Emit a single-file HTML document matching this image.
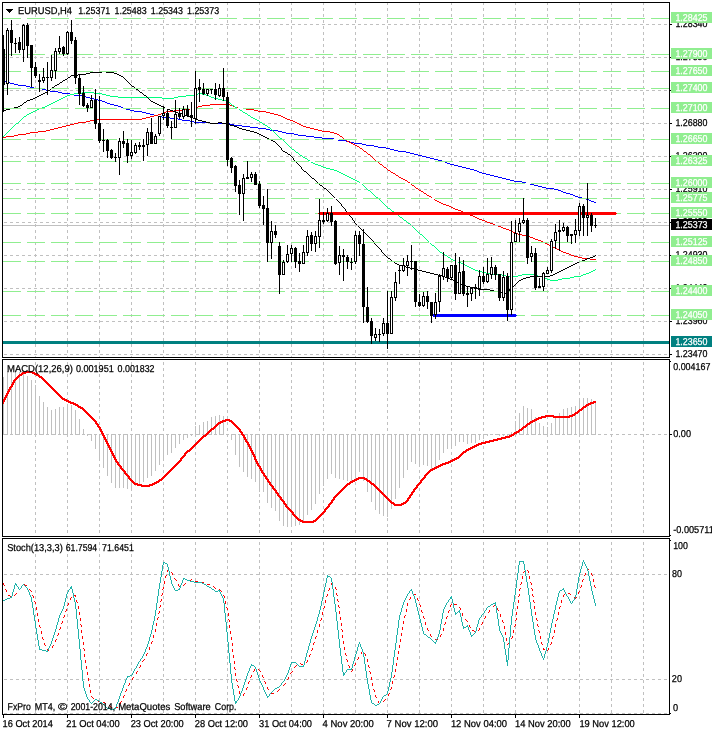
<!DOCTYPE html>
<html lang="en"><head><meta charset="utf-8"><title>EURUSD H4</title>
<style>html,body{margin:0;padding:0;background:#fff;overflow:hidden}body{width:712px;height:732px}</style>
</head><body>
<svg width="712" height="732" viewBox="0 0 712 732" shape-rendering="crispEdges" style="display:block;font-family:'Liberation Sans',Arial,sans-serif;font-size:9px">
<rect x="0" y="0" width="712" height="732" fill="#fff"/>
<g stroke="#c0c0c0" stroke-width="1" stroke-dasharray="3 3" fill="none">
<line x1="35.5" y1="2" x2="35.5" y2="714"/>
<line x1="67.5" y1="2" x2="67.5" y2="714"/>
<line x1="99.5" y1="2" x2="99.5" y2="714"/>
<line x1="131.5" y1="2" x2="131.5" y2="714"/>
<line x1="163.5" y1="2" x2="163.5" y2="714"/>
<line x1="195.5" y1="2" x2="195.5" y2="714"/>
<line x1="227.5" y1="2" x2="227.5" y2="714"/>
<line x1="259.5" y1="2" x2="259.5" y2="714"/>
<line x1="291.5" y1="2" x2="291.5" y2="714"/>
<line x1="323.5" y1="2" x2="323.5" y2="714"/>
<line x1="355.5" y1="2" x2="355.5" y2="714"/>
<line x1="387.5" y1="2" x2="387.5" y2="714"/>
<line x1="419.5" y1="2" x2="419.5" y2="714"/>
<line x1="451.5" y1="2" x2="451.5" y2="714"/>
<line x1="483.5" y1="2" x2="483.5" y2="714"/>
<line x1="515.5" y1="2" x2="515.5" y2="714"/>
<line x1="547.5" y1="2" x2="547.5" y2="714"/>
<line x1="579.5" y1="2" x2="579.5" y2="714"/>
<line x1="611.5" y1="2" x2="611.5" y2="714"/>
<line x1="643.5" y1="2" x2="643.5" y2="714"/>
<line x1="4" y1="24.5" x2="669" y2="24.5"/>
<line x1="4" y1="57.5" x2="669" y2="57.5"/>
<line x1="4" y1="90.5" x2="669" y2="90.5"/>
<line x1="4" y1="123.5" x2="669" y2="123.5"/>
<line x1="4" y1="156.5" x2="669" y2="156.5"/>
<line x1="4" y1="189.5" x2="669" y2="189.5"/>
<line x1="4" y1="222.5" x2="669" y2="222.5"/>
<line x1="4" y1="255.5" x2="669" y2="255.5"/>
<line x1="4" y1="288.5" x2="669" y2="288.5"/>
<line x1="4" y1="321.5" x2="669" y2="321.5"/>
<line x1="4" y1="354.5" x2="669" y2="354.5"/>
<line x1="4" y1="434.5" x2="669" y2="434.5"/>
<line x1="4" y1="574.5" x2="669" y2="574.5"/>
<line x1="4" y1="679.5" x2="669" y2="679.5"/>
<line x1="4" y1="713.5" x2="669" y2="713.5"/>
</g>
<rect x="0" y="358" width="712" height="1" fill="#fff"/>
<rect x="0" y="537" width="712" height="1" fill="#fff"/>
<path d="M3 81h3v1h-3zM6 82h4v1h-4zM10 83h4v1h-4zM14 84h4v1h-4zM18 85h8v1h-8zM26 86h4v1h-4zM30 87h4v1h-4zM34 88h8v1h-8zM42 89h4v1h-4zM46 90h4v1h-4zM50 91h8v1h-8zM58 92h4v1h-4zM62 93h8v1h-8zM70 94h4v1h-4zM74 95h8v1h-8zM82 96h4v1h-4zM86 97h4v1h-4zM90 98h4v1h-4zM94 99h4v1h-4zM98 100h4v1h-4zM102 101h3v1h-3zM105 102h2v1h-2zM107 103h3v1h-3zM110 104h4v1h-4zM114 105h4v1h-4zM118 106h3v1h-3zM121 107h2v1h-2zM123 108h3v1h-3zM126 109h4v1h-4zM130 110h4v1h-4zM134 111h8v1h-8zM142 112h4v1h-4zM146 113h4v1h-4zM150 114h4v1h-4zM154 115h4v1h-4zM158 116h4v1h-4zM162 117h8v1h-8zM170 118h8v1h-8zM178 119h4v1h-4zM182 120h8v1h-8zM190 121h4v1h-4zM194 122h16v1h-16zM210 123h20v1h-20zM230 124h4v1h-4zM234 125h8v1h-8zM242 126h8v1h-8zM250 127h8v1h-8zM258 128h8v1h-8zM266 129h4v1h-4zM270 130h8v1h-8zM278 131h4v1h-4zM282 132h4v1h-4zM286 133h8v1h-8zM294 134h4v1h-4zM298 135h8v1h-8zM306 136h8v1h-8zM314 137h8v1h-8zM322 138h12v1h-12zM334 139h4v1h-4zM338 140h8v1h-8zM346 141h4v1h-4zM350 142h4v1h-4zM354 143h8v1h-8zM362 144h4v1h-4zM366 145h8v1h-8zM374 146h4v1h-4zM378 147h8v1h-8zM386 148h4v1h-4zM390 149h4v1h-4zM394 150h4v1h-4zM398 151h8v1h-8zM406 152h4v1h-4zM410 153h4v1h-4zM414 154h4v1h-4zM418 155h4v1h-4zM422 156h4v1h-4zM426 157h4v1h-4zM430 158h4v1h-4zM434 159h4v1h-4zM438 160h4v1h-4zM442 161h3v1h-3zM445 162h2v1h-2zM447 163h3v1h-3zM450 164h4v1h-4zM454 165h4v1h-4zM458 166h4v1h-4zM462 167h4v1h-4zM466 168h4v1h-4zM470 169h4v1h-4zM474 170h3v1h-3zM477 171h2v1h-2zM479 172h3v1h-3zM482 173h4v1h-4zM486 174h4v1h-4zM490 175h4v1h-4zM494 176h4v1h-4zM498 177h4v1h-4zM502 178h4v1h-4zM506 179h4v1h-4zM510 180h4v1h-4zM514 181h8v1h-8zM522 182h4v1h-4zM526 183h4v1h-4zM530 184h4v1h-4zM534 185h4v1h-4zM538 186h4v1h-4zM542 187h4v1h-4zM546 188h8v1h-8zM554 189h4v1h-4zM558 190h3v1h-3zM561 191h2v1h-2zM563 192h3v1h-3zM566 193h4v1h-4zM570 194h3v1h-3zM573 195h2v1h-2zM575 196h3v1h-3zM578 197h4v1h-4zM582 198h4v1h-4zM586 199h3v1h-3zM589 200h2v1h-2zM591 201h3v1h-3zM594 202h2v1h-2z" fill="#0000ff"/>
<path d="M210 104h20v1h-20zM202 105h8v1h-8zM230 105h3v1h-3zM198 106h4v1h-4zM233 106h2v1h-2zM194 107h4v1h-4zM235 107h3v1h-3zM190 108h4v1h-4zM238 108h8v1h-8zM182 109h8v1h-8zM246 109h8v1h-8zM174 110h8v1h-8zM254 110h4v1h-4zM166 111h8v1h-8zM258 111h8v1h-8zM163 112h3v1h-3zM266 112h4v1h-4zM161 113h2v1h-2zM270 113h4v1h-4zM158 114h3v1h-3zM274 114h4v1h-4zM154 115h4v1h-4zM278 115h3v1h-3zM150 116h4v1h-4zM281 116h2v1h-2zM146 117h4v1h-4zM283 117h2v1h-2zM142 118h4v1h-4zM285 118h2v1h-2zM94 119h48v1h-48zM287 119h3v1h-3zM90 120h4v1h-4zM290 120h3v1h-3zM86 121h4v1h-4zM293 121h2v1h-2zM78 122h8v1h-8zM295 122h2v1h-2zM74 123h4v1h-4zM297 123h2v1h-2zM70 124h4v1h-4zM299 124h2v1h-2zM66 125h4v1h-4zM301 125h2v1h-2zM62 126h4v1h-4zM303 126h3v1h-3zM58 127h4v1h-4zM306 127h4v1h-4zM54 128h4v1h-4zM310 128h4v1h-4zM50 129h4v1h-4zM314 129h4v1h-4zM46 130h4v1h-4zM318 130h4v1h-4zM38 131h8v1h-8zM322 131h8v1h-8zM30 132h8v1h-8zM330 132h4v1h-4zM26 133h4v1h-4zM334 133h3v1h-3zM18 134h8v1h-8zM337 134h2v1h-2zM14 135h4v1h-4zM339 135h1v1h-1zM6 136h8v1h-8zM340 136h2v1h-2zM3 137h3v1h-3zM342 137h1v1h-1zM343 138h1v1h-1zM344 139h2v1h-2zM346 140h1v1h-1zM347 141h2v1h-2zM349 142h2v1h-2zM351 143h2v1h-2zM353 144h2v1h-2zM355 145h2v1h-2zM357 146h2v1h-2zM359 147h1v1h-1zM360 148h2v1h-2zM362 149h1v1h-1zM363 150h1v1h-1zM364 151h2v1h-2zM366 152h1v1h-1zM367 153h1v1h-1zM368 154h2v1h-2zM370 155h1v1h-1zM371 156h1v1h-1zM372 157h1v1h-1zM373 158h1v1h-1zM374 159h1v1h-1zM375 160h1v1h-1zM376 161h2v1h-2zM378 162h1v1h-1zM379 163h1v1h-1zM380 164h2v1h-2zM382 165h1v1h-1zM383 166h1v1h-1zM384 167h2v1h-2zM386 168h1v1h-1zM387 169h1v1h-1zM388 170h2v1h-2zM390 171h1v1h-1zM391 172h2v1h-2zM393 173h2v1h-2zM395 174h1v1h-1zM396 175h2v1h-2zM398 176h1v1h-1zM399 177h2v1h-2zM401 178h2v1h-2zM403 179h2v1h-2zM405 180h2v1h-2zM407 181h1v1h-1zM408 182h2v1h-2zM410 183h1v1h-1zM411 184h1v1h-1zM412 185h2v1h-2zM414 186h1v1h-1zM415 187h1v1h-1zM416 188h2v1h-2zM418 189h1v1h-1zM419 190h2v1h-2zM421 191h2v1h-2zM423 192h1v1h-1zM424 193h2v1h-2zM426 194h1v1h-1zM427 195h2v1h-2zM429 196h2v1h-2zM431 197h1v1h-1zM432 198h2v1h-2zM434 199h1v1h-1zM435 200h2v1h-2zM437 201h2v1h-2zM439 202h2v1h-2zM441 203h2v1h-2zM443 204h3v1h-3zM446 205h3v1h-3zM449 206h2v1h-2zM451 207h2v1h-2zM453 208h2v1h-2zM455 209h3v1h-3zM458 210h3v1h-3zM461 211h2v1h-2zM463 212h2v1h-2zM465 213h2v1h-2zM467 214h3v1h-3zM470 215h3v1h-3zM473 216h2v1h-2zM475 217h2v1h-2zM477 218h2v1h-2zM479 219h3v1h-3zM482 220h3v1h-3zM485 221h2v1h-2zM487 222h3v1h-3zM490 223h3v1h-3zM493 224h2v1h-2zM495 225h3v1h-3zM498 226h3v1h-3zM501 227h2v1h-2zM503 228h3v1h-3zM506 229h3v1h-3zM509 230h2v1h-2zM511 231h2v1h-2zM513 232h2v1h-2zM515 233h3v1h-3zM518 234h4v1h-4zM522 235h4v1h-4zM526 236h4v1h-4zM530 237h3v1h-3zM533 238h2v1h-2zM535 239h3v1h-3zM538 240h3v1h-3zM541 241h2v1h-2zM543 242h2v1h-2zM545 243h2v1h-2zM547 244h2v1h-2zM549 245h2v1h-2zM551 246h2v1h-2zM553 247h2v1h-2zM555 248h2v1h-2zM557 249h2v1h-2zM559 250h2v1h-2zM561 251h2v1h-2zM563 252h3v1h-3zM566 253h3v1h-3zM569 254h2v1h-2zM571 255h3v1h-3zM574 256h4v1h-4zM578 257h4v1h-4zM582 258h8v1h-8zM590 259h6v1h-6z" fill="#ff0000"/>
<path d="M82 92h12v1h-12zM74 93h8v1h-8zM94 93h8v1h-8zM198 93h4v1h-4zM70 94h4v1h-4zM102 94h4v1h-4zM194 94h4v1h-4zM202 94h4v1h-4zM67 95h3v1h-3zM106 95h4v1h-4zM186 95h8v1h-8zM206 95h3v1h-3zM65 96h2v1h-2zM110 96h8v1h-8zM178 96h8v1h-8zM209 96h2v1h-2zM63 97h2v1h-2zM118 97h44v1h-44zM174 97h4v1h-4zM211 97h3v1h-3zM61 98h2v1h-2zM162 98h12v1h-12zM214 98h4v1h-4zM59 99h2v1h-2zM218 99h4v1h-4zM57 100h2v1h-2zM222 100h4v1h-4zM55 101h2v1h-2zM226 101h2v1h-2zM53 102h2v1h-2zM228 102h2v1h-2zM51 103h2v1h-2zM230 103h1v1h-1zM49 104h2v1h-2zM231 104h1v1h-1zM47 105h2v1h-2zM232 105h2v1h-2zM45 106h2v1h-2zM234 106h1v1h-1zM42 107h3v1h-3zM235 107h2v1h-2zM39 108h3v1h-3zM237 108h2v1h-2zM37 109h2v1h-2zM239 109h1v1h-1zM35 110h2v1h-2zM240 110h2v1h-2zM33 111h2v1h-2zM242 111h1v1h-1zM31 112h2v1h-2zM243 112h2v1h-2zM29 113h2v1h-2zM245 113h2v1h-2zM27 114h2v1h-2zM247 114h1v1h-1zM26 115h1v1h-1zM248 115h2v1h-2zM24 116h2v1h-2zM250 116h1v1h-1zM23 117h1v1h-1zM251 117h2v1h-2zM22 118h1v1h-1zM253 118h2v1h-2zM21 119h1v1h-1zM255 119h2v1h-2zM20 120h1v1h-1zM257 120h2v1h-2zM19 121h1v1h-1zM259 121h1v1h-1zM18 122h1v1h-1zM260 122h2v1h-2zM16 123h2v1h-2zM262 123h1v1h-1zM15 124h1v1h-1zM263 124h2v1h-2zM14 125h1v1h-1zM265 125h2v1h-2zM13 126h1v1h-1zM267 126h1v1h-1zM12 127h1v1h-1zM268 127h2v1h-2zM11 128h1v1h-1zM270 128h1v1h-1zM10 129h1v1h-1zM271 129h1v1h-1zM9 130h1v1h-1zM272 130h1v1h-1zM8 131h1v1h-1zM273 131h1v1h-1zM7 132h1v1h-1zM274 132h1v1h-1zM6 133h1v1h-1zM275 133h1v1h-1zM5 134h1v1h-1zM276 134h1v1h-1zM4 135h1v1h-1zM277 135h1v1h-1zM3 136h1v1h-1zM278 136h1v1h-1zM279 137h1v1h-1zM280 138h2v1h-2zM282 139h1v1h-1zM283 140h1v1h-1zM284 141h1v1h-1zM285 142h1v1h-1zM286 143h1v1h-1zM287 144h1v1h-1zM288 145h1v1h-1zM289 146h1v1h-1zM290 147h1v1h-1zM291 148h1v1h-1zM292 149h2v1h-2zM294 150h1v1h-1zM295 151h1v1h-1zM296 152h2v1h-2zM298 153h1v1h-1zM299 154h1v1h-1zM300 155h2v1h-2zM302 156h1v1h-1zM303 157h2v1h-2zM305 158h2v1h-2zM307 159h1v1h-1zM308 160h2v1h-2zM310 161h1v1h-1zM311 162h2v1h-2zM313 163h2v1h-2zM315 164h3v1h-3zM318 165h3v1h-3zM321 166h2v1h-2zM323 167h3v1h-3zM326 168h4v1h-4zM330 169h4v1h-4zM334 170h3v1h-3zM337 171h2v1h-2zM339 172h2v1h-2zM341 173h2v1h-2zM343 174h2v1h-2zM345 175h2v1h-2zM347 176h2v1h-2zM349 177h2v1h-2zM351 178h2v1h-2zM353 179h2v1h-2zM355 180h2v1h-2zM357 181h2v1h-2zM359 182h1v1h-1zM360 183h2v1h-2zM362 184h1v1h-1zM363 185h1v1h-1zM364 186h1v1h-1zM365 187h1v1h-1zM366 188h1v1h-1zM367 189h1v1h-1zM368 190h2v1h-2zM370 191h1v1h-1zM371 192h1v1h-1zM372 193h1v1h-1zM373 194h1v1h-1zM374 195h1v1h-1zM375 196h1v1h-1zM376 197h2v1h-2zM378 198h1v1h-1zM379 199h1v1h-1zM380 200h1v1h-1zM381 201h1v1h-1zM382 202h1v1h-1zM383 203h1v1h-1zM384 204h1v1h-1zM385 205h1v1h-1zM386 206h1v1h-1zM387 207h1v1h-1zM388 208h2v1h-2zM390 209h1v1h-1zM391 210h1v1h-1zM392 211h2v1h-2zM394 212h1v1h-1zM395 213h1v1h-1zM396 214h2v1h-2zM398 215h1v1h-1zM399 216h1v1h-1zM400 217h2v1h-2zM402 218h1v1h-1zM403 219h1v1h-1zM404 220h2v1h-2zM406 221h1v1h-1zM407 222h1v1h-1zM408 223h2v1h-2zM410 224h1v1h-1zM411 225h1v1h-1zM412 226h1v1h-1zM413 227h1v1h-1zM414 228h1v1h-1zM415 229h1v1h-1zM416 230h1v1h-1zM417 231h1v1h-1zM418 232h1v1h-1zM419 233h1v1h-1zM420 234h2v1h-2zM422 235h1v1h-1zM423 236h1v1h-1zM424 237h1v1h-1zM425 238h1v1h-1zM426 239h1v1h-1zM427 240h1v1h-1zM428 241h1v1h-1zM429 242h1v1h-1zM430 243h1v1h-1zM431 244h1v1h-1zM432 245h2v1h-2zM434 246h1v1h-1zM435 247h1v1h-1zM436 248h1v1h-1zM437 249h1v1h-1zM438 250h1v1h-1zM439 251h1v1h-1zM440 252h2v1h-2zM442 253h1v1h-1zM443 254h2v1h-2zM445 255h2v1h-2zM447 256h1v1h-1zM448 257h2v1h-2zM450 258h1v1h-1zM451 259h2v1h-2zM453 260h2v1h-2zM455 261h3v1h-3zM458 262h3v1h-3zM461 263h2v1h-2zM463 264h2v1h-2zM465 265h2v1h-2zM467 266h2v1h-2zM469 267h2v1h-2zM471 268h2v1h-2zM473 269h2v1h-2zM595 269h1v1h-1zM475 270h3v1h-3zM593 270h2v1h-2zM478 271h4v1h-4zM591 271h2v1h-2zM482 272h4v1h-4zM589 272h2v1h-2zM486 273h4v1h-4zM586 273h3v1h-3zM490 274h12v1h-12zM522 274h12v1h-12zM583 274h3v1h-3zM502 275h4v1h-4zM518 275h4v1h-4zM534 275h4v1h-4zM581 275h2v1h-2zM506 276h12v1h-12zM538 276h4v1h-4zM574 276h7v1h-7zM542 277h3v1h-3zM570 277h4v1h-4zM545 278h2v1h-2zM562 278h8v1h-8zM547 279h3v1h-3zM558 279h4v1h-4zM550 280h8v1h-8z" fill="#00ff7f"/>
<path d="M102 71h4v1h-4zM90 72h12v1h-12zM106 72h8v1h-8zM86 73h4v1h-4zM114 73h3v1h-3zM78 74h8v1h-8zM117 74h2v1h-2zM71 75h7v1h-7zM119 75h2v1h-2zM70 76h1v1h-1zM121 76h2v1h-2zM68 77h2v1h-2zM123 77h1v1h-1zM67 78h1v1h-1zM124 78h1v1h-1zM65 79h2v1h-2zM125 79h1v1h-1zM63 80h2v1h-2zM126 80h1v1h-1zM62 81h1v1h-1zM127 81h1v1h-1zM60 82h2v1h-2zM128 82h1v1h-1zM59 83h1v1h-1zM129 83h1v1h-1zM57 84h2v1h-2zM130 84h1v1h-1zM55 85h2v1h-2zM131 85h1v1h-1zM54 86h1v1h-1zM132 86h2v1h-2zM52 87h2v1h-2zM134 87h1v1h-1zM51 88h1v1h-1zM135 88h1v1h-1zM50 89h1v1h-1zM136 89h2v1h-2zM48 90h2v1h-2zM138 90h1v1h-1zM47 91h1v1h-1zM139 91h1v1h-1zM45 92h2v1h-2zM140 92h2v1h-2zM43 93h2v1h-2zM142 93h1v1h-1zM41 94h2v1h-2zM143 94h1v1h-1zM39 95h2v1h-2zM144 95h2v1h-2zM37 96h2v1h-2zM146 96h1v1h-1zM35 97h2v1h-2zM147 97h1v1h-1zM33 98h2v1h-2zM148 98h1v1h-1zM30 99h3v1h-3zM149 99h1v1h-1zM27 100h3v1h-3zM150 100h1v1h-1zM26 101h1v1h-1zM151 101h2v1h-2zM24 102h2v1h-2zM153 102h2v1h-2zM23 103h1v1h-1zM155 103h2v1h-2zM22 104h1v1h-1zM157 104h2v1h-2zM20 105h2v1h-2zM159 105h2v1h-2zM18 106h2v1h-2zM161 106h2v1h-2zM14 107h4v1h-4zM163 107h2v1h-2zM10 108h4v1h-4zM165 108h2v1h-2zM6 109h4v1h-4zM167 109h3v1h-3zM3 110h3v1h-3zM170 110h3v1h-3zM173 111h2v1h-2zM175 112h3v1h-3zM178 113h4v1h-4zM182 114h3v1h-3zM185 115h2v1h-2zM187 116h3v1h-3zM190 117h3v1h-3zM193 118h2v1h-2zM195 119h3v1h-3zM198 120h4v1h-4zM202 121h4v1h-4zM206 122h4v1h-4zM218 122h4v1h-4zM210 123h8v1h-8zM222 123h4v1h-4zM226 124h4v1h-4zM230 125h4v1h-4zM234 126h3v1h-3zM237 127h2v1h-2zM239 128h3v1h-3zM242 129h4v1h-4zM246 130h4v1h-4zM250 131h4v1h-4zM254 132h3v1h-3zM257 133h2v1h-2zM259 134h2v1h-2zM261 135h2v1h-2zM263 136h2v1h-2zM265 137h2v1h-2zM267 138h2v1h-2zM269 139h2v1h-2zM271 140h2v1h-2zM273 141h2v1h-2zM275 142h1v1h-1zM276 143h1v1h-1zM277 144h1v1h-1zM278 145h1v1h-1zM279 146h1v1h-1zM280 147h1v1h-1zM281 148h1v1h-1zM281 149h1v1h-1zM282 150h1v1h-1zM283 151h2v1h-2zM285 152h2v1h-2zM287 153h1v1h-1zM288 154h2v1h-2zM290 155h1v1h-1zM291 156h1v1h-1zM292 157h1v1h-1zM293 158h1v1h-1zM293 159h1v1h-1zM294 160h1v1h-1zM295 161h1v1h-1zM296 162h1v1h-1zM297 163h1v1h-1zM298 164h1v1h-1zM299 165h1v1h-1zM300 166h1v1h-1zM301 167h1v1h-1zM301 168h1v1h-1zM302 169h1v1h-1zM303 170h1v1h-1zM304 171h2v1h-2zM306 172h1v1h-1zM307 173h1v1h-1zM308 174h1v1h-1zM309 175h1v1h-1zM310 176h1v1h-1zM311 177h1v1h-1zM312 178h2v1h-2zM314 179h1v1h-1zM315 180h1v1h-1zM316 181h1v1h-1zM317 182h1v1h-1zM318 183h1v1h-1zM319 184h1v1h-1zM320 185h2v1h-2zM322 186h1v1h-1zM323 187h1v1h-1zM324 188h2v1h-2zM326 189h1v1h-1zM327 190h1v1h-1zM328 191h1v1h-1zM329 192h1v1h-1zM330 193h1v1h-1zM331 194h1v1h-1zM332 195h1v1h-1zM333 196h1v1h-1zM334 197h1v1h-1zM335 198h1v1h-1zM336 199h1v1h-1zM337 200h1v1h-1zM338 201h1v1h-1zM339 202h1v1h-1zM340 203h1v1h-1zM341 204h1v1h-1zM341 205h1v1h-1zM342 206h1v1h-1zM343 207h1v1h-1zM344 208h1v1h-1zM345 209h1v1h-1zM345 210h1v1h-1zM346 211h1v1h-1zM347 212h1v1h-1zM348 213h1v1h-1zM349 214h1v1h-1zM349 215h1v1h-1zM350 216h1v1h-1zM351 217h1v1h-1zM352 218h1v1h-1zM352 219h1v1h-1zM353 220h1v1h-1zM354 221h1v1h-1zM354 222h1v1h-1zM355 223h1v1h-1zM356 224h1v1h-1zM357 225h1v1h-1zM358 226h1v1h-1zM359 227h1v1h-1zM360 228h1v1h-1zM361 229h1v1h-1zM362 230h1v1h-1zM363 231h1v1h-1zM364 232h1v1h-1zM365 233h1v1h-1zM366 234h1v1h-1zM367 235h1v1h-1zM368 236h1v1h-1zM369 237h1v1h-1zM370 238h1v1h-1zM371 239h1v1h-1zM372 240h1v1h-1zM373 241h1v1h-1zM373 242h1v1h-1zM374 243h1v1h-1zM375 244h1v1h-1zM376 245h1v1h-1zM377 246h1v1h-1zM378 247h1v1h-1zM379 248h1v1h-1zM380 249h1v1h-1zM381 250h1v1h-1zM381 251h1v1h-1zM382 252h1v1h-1zM383 253h1v1h-1zM384 254h1v1h-1zM385 255h1v1h-1zM595 255h1v1h-1zM386 256h1v1h-1zM593 256h2v1h-2zM387 257h1v1h-1zM590 257h3v1h-3zM388 258h2v1h-2zM587 258h3v1h-3zM390 259h1v1h-1zM585 259h2v1h-2zM391 260h1v1h-1zM582 260h3v1h-3zM392 261h2v1h-2zM579 261h3v1h-3zM394 262h1v1h-1zM577 262h2v1h-2zM395 263h2v1h-2zM575 263h2v1h-2zM397 264h2v1h-2zM573 264h2v1h-2zM399 265h3v1h-3zM571 265h2v1h-2zM402 266h4v1h-4zM569 266h2v1h-2zM406 267h4v1h-4zM567 267h2v1h-2zM410 268h4v1h-4zM565 268h2v1h-2zM414 269h4v1h-4zM563 269h2v1h-2zM418 270h4v1h-4zM561 270h2v1h-2zM422 271h4v1h-4zM559 271h2v1h-2zM426 272h4v1h-4zM557 272h2v1h-2zM430 273h4v1h-4zM555 273h2v1h-2zM434 274h4v1h-4zM553 274h2v1h-2zM438 275h4v1h-4zM550 275h3v1h-3zM442 276h3v1h-3zM530 276h20v1h-20zM445 277h2v1h-2zM526 277h4v1h-4zM447 278h3v1h-3zM523 278h3v1h-3zM450 279h3v1h-3zM521 279h2v1h-2zM453 280h2v1h-2zM519 280h2v1h-2zM455 281h2v1h-2zM518 281h1v1h-1zM457 282h2v1h-2zM517 282h1v1h-1zM459 283h2v1h-2zM516 283h1v1h-1zM461 284h2v1h-2zM515 284h1v1h-1zM463 285h3v1h-3zM514 285h1v1h-1zM466 286h4v1h-4zM512 286h2v1h-2zM470 287h4v1h-4zM511 287h1v1h-1zM474 288h4v1h-4zM510 288h1v1h-1zM478 289h12v1h-12zM509 289h1v1h-1zM490 290h4v1h-4zM509 290h1v1h-1zM494 291h4v1h-4zM508 291h1v1h-1zM498 292h4v1h-4zM506 292h2v1h-2zM502 293h4v1h-4z" fill="#000000"/>
<rect x="3" y="18" width="666" height="1" fill="#fff"/>
<rect x="3" y="54" width="666" height="1" fill="#fff"/>
<rect x="3" y="71" width="666" height="1" fill="#fff"/>
<rect x="3" y="88" width="666" height="1" fill="#fff"/>
<rect x="3" y="108" width="666" height="1" fill="#fff"/>
<rect x="3" y="139" width="666" height="1" fill="#fff"/>
<rect x="3" y="161" width="666" height="1" fill="#fff"/>
<rect x="3" y="183" width="666" height="1" fill="#fff"/>
<rect x="3" y="198" width="666" height="1" fill="#fff"/>
<rect x="3" y="213" width="666" height="1" fill="#fff"/>
<rect x="3" y="242" width="666" height="1" fill="#fff"/>
<rect x="3" y="261" width="666" height="1" fill="#fff"/>
<rect x="3" y="291" width="666" height="1" fill="#fff"/>
<rect x="3" y="315" width="666" height="1" fill="#fff"/>
<g stroke="#90ee90" stroke-width="1" stroke-dasharray="18 6" fill="none">
<line x1="3" y1="18.5" x2="669" y2="18.5"/>
<line x1="3" y1="54.5" x2="669" y2="54.5"/>
<line x1="3" y1="71.5" x2="669" y2="71.5"/>
<line x1="3" y1="88.5" x2="669" y2="88.5"/>
<line x1="3" y1="108.5" x2="669" y2="108.5"/>
<line x1="3" y1="139.5" x2="669" y2="139.5"/>
<line x1="3" y1="161.5" x2="669" y2="161.5"/>
<line x1="3" y1="183.5" x2="669" y2="183.5"/>
<line x1="3" y1="198.5" x2="669" y2="198.5"/>
<line x1="3" y1="213.5" x2="669" y2="213.5"/>
<line x1="3" y1="242.5" x2="669" y2="242.5"/>
<line x1="3" y1="261.5" x2="669" y2="261.5"/>
<line x1="3" y1="291.5" x2="669" y2="291.5"/>
<line x1="3" y1="315.5" x2="669" y2="315.5"/>
</g>
<rect x="3" y="225" width="666" height="1" fill="#c0c0c0"/>
<rect x="3" y="341" width="666" height="3" fill="#008080"/>
<rect x="318" y="213" width="299" height="1" fill="#ff0000"/>
<rect x="319" y="212" width="297" height="3" fill="#ff0000"/>
<rect x="432" y="315" width="85" height="1" fill="#0000ff"/>
<rect x="433" y="314" width="83" height="3" fill="#0000ff"/>
<rect x="3" y="35" width="1" height="77" fill="#000"/>
<rect x="2" y="49" width="3" height="36" fill="#000"/>
<rect x="7" y="28" width="1" height="67" fill="#000"/>
<rect x="6" y="30" width="3" height="54" fill="#000"/>
<rect x="7" y="31" width="1" height="52" fill="#fff"/>
<rect x="11" y="20" width="1" height="36" fill="#000"/>
<rect x="10" y="30" width="3" height="13" fill="#000"/>
<rect x="15" y="38" width="1" height="15" fill="#000"/>
<rect x="14" y="43" width="3" height="1" fill="#000"/>
<rect x="19" y="37" width="1" height="16" fill="#000"/>
<rect x="18" y="42" width="3" height="8" fill="#000"/>
<rect x="23" y="24" width="1" height="38" fill="#000"/>
<rect x="22" y="25" width="3" height="25" fill="#000"/>
<rect x="23" y="26" width="1" height="23" fill="#fff"/>
<rect x="27" y="23" width="1" height="35" fill="#000"/>
<rect x="26" y="25" width="3" height="21" fill="#000"/>
<rect x="31" y="45" width="1" height="42" fill="#000"/>
<rect x="30" y="45" width="3" height="23" fill="#000"/>
<rect x="35" y="62" width="1" height="16" fill="#000"/>
<rect x="34" y="67" width="3" height="9" fill="#000"/>
<rect x="39" y="74" width="1" height="18" fill="#000"/>
<rect x="38" y="80" width="3" height="2" fill="#000"/>
<rect x="43" y="68" width="1" height="15" fill="#000"/>
<rect x="42" y="77" width="3" height="4" fill="#000"/>
<rect x="43" y="78" width="1" height="2" fill="#fff"/>
<rect x="47" y="62" width="1" height="33" fill="#000"/>
<rect x="46" y="77" width="3" height="1" fill="#000"/>
<rect x="51" y="55" width="1" height="26" fill="#000"/>
<rect x="50" y="70" width="3" height="8" fill="#000"/>
<rect x="51" y="71" width="1" height="6" fill="#fff"/>
<rect x="55" y="48" width="1" height="31" fill="#000"/>
<rect x="54" y="51" width="3" height="20" fill="#000"/>
<rect x="55" y="52" width="1" height="18" fill="#fff"/>
<rect x="59" y="36" width="1" height="18" fill="#000"/>
<rect x="58" y="48" width="3" height="4" fill="#000"/>
<rect x="59" y="49" width="1" height="2" fill="#fff"/>
<rect x="63" y="46" width="1" height="10" fill="#000"/>
<rect x="62" y="47" width="3" height="7" fill="#000"/>
<rect x="67" y="31" width="1" height="24" fill="#000"/>
<rect x="66" y="32" width="3" height="22" fill="#000"/>
<rect x="67" y="33" width="1" height="20" fill="#fff"/>
<rect x="71" y="20" width="1" height="24" fill="#000"/>
<rect x="70" y="32" width="3" height="9" fill="#000"/>
<rect x="75" y="37" width="1" height="47" fill="#000"/>
<rect x="74" y="40" width="3" height="38" fill="#000"/>
<rect x="79" y="74" width="1" height="31" fill="#000"/>
<rect x="78" y="78" width="3" height="16" fill="#000"/>
<rect x="83" y="86" width="1" height="21" fill="#000"/>
<rect x="82" y="93" width="3" height="13" fill="#000"/>
<rect x="87" y="103" width="1" height="9" fill="#000"/>
<rect x="86" y="105" width="3" height="3" fill="#000"/>
<rect x="91" y="95" width="1" height="13" fill="#000"/>
<rect x="90" y="100" width="3" height="8" fill="#000"/>
<rect x="91" y="101" width="1" height="6" fill="#fff"/>
<rect x="95" y="89" width="1" height="40" fill="#000"/>
<rect x="94" y="100" width="3" height="24" fill="#000"/>
<rect x="99" y="96" width="1" height="47" fill="#000"/>
<rect x="98" y="123" width="3" height="18" fill="#000"/>
<rect x="103" y="129" width="1" height="23" fill="#000"/>
<rect x="102" y="140" width="3" height="1" fill="#000"/>
<rect x="107" y="139" width="1" height="19" fill="#000"/>
<rect x="106" y="140" width="3" height="11" fill="#000"/>
<rect x="111" y="149" width="1" height="10" fill="#000"/>
<rect x="110" y="150" width="3" height="8" fill="#000"/>
<rect x="115" y="153" width="1" height="9" fill="#000"/>
<rect x="114" y="157" width="3" height="1" fill="#000"/>
<rect x="119" y="138" width="1" height="37" fill="#000"/>
<rect x="118" y="141" width="3" height="17" fill="#000"/>
<rect x="119" y="142" width="1" height="15" fill="#fff"/>
<rect x="123" y="131" width="1" height="17" fill="#000"/>
<rect x="122" y="141" width="3" height="3" fill="#000"/>
<rect x="127" y="139" width="1" height="24" fill="#000"/>
<rect x="126" y="143" width="3" height="13" fill="#000"/>
<rect x="131" y="140" width="1" height="19" fill="#000"/>
<rect x="130" y="152" width="3" height="4" fill="#000"/>
<rect x="131" y="153" width="1" height="2" fill="#fff"/>
<rect x="135" y="143" width="1" height="11" fill="#000"/>
<rect x="134" y="145" width="3" height="8" fill="#000"/>
<rect x="135" y="146" width="1" height="6" fill="#fff"/>
<rect x="139" y="142" width="1" height="8" fill="#000"/>
<rect x="138" y="145" width="3" height="2" fill="#000"/>
<rect x="143" y="139" width="1" height="22" fill="#000"/>
<rect x="142" y="145" width="3" height="2" fill="#000"/>
<rect x="147" y="128" width="1" height="28" fill="#000"/>
<rect x="146" y="132" width="3" height="13" fill="#000"/>
<rect x="147" y="133" width="1" height="11" fill="#fff"/>
<rect x="151" y="118" width="1" height="26" fill="#000"/>
<rect x="150" y="132" width="3" height="12" fill="#000"/>
<rect x="155" y="134" width="1" height="10" fill="#000"/>
<rect x="154" y="136" width="3" height="8" fill="#000"/>
<rect x="155" y="137" width="1" height="6" fill="#fff"/>
<rect x="159" y="116" width="1" height="20" fill="#000"/>
<rect x="158" y="116" width="3" height="18" fill="#000"/>
<rect x="159" y="117" width="1" height="16" fill="#fff"/>
<rect x="163" y="106" width="1" height="14" fill="#000"/>
<rect x="162" y="113" width="3" height="3" fill="#000"/>
<rect x="163" y="114" width="1" height="1" fill="#fff"/>
<rect x="167" y="110" width="1" height="18" fill="#000"/>
<rect x="166" y="113" width="3" height="13" fill="#000"/>
<rect x="171" y="121" width="1" height="18" fill="#000"/>
<rect x="170" y="127" width="3" height="1" fill="#000"/>
<rect x="175" y="100" width="1" height="28" fill="#000"/>
<rect x="174" y="114" width="3" height="14" fill="#000"/>
<rect x="175" y="115" width="1" height="12" fill="#fff"/>
<rect x="179" y="108" width="1" height="11" fill="#000"/>
<rect x="178" y="113" width="3" height="4" fill="#000"/>
<rect x="183" y="106" width="1" height="13" fill="#000"/>
<rect x="182" y="109" width="3" height="8" fill="#000"/>
<rect x="183" y="110" width="1" height="6" fill="#fff"/>
<rect x="187" y="105" width="1" height="12" fill="#000"/>
<rect x="186" y="109" width="3" height="7" fill="#000"/>
<rect x="191" y="102" width="1" height="25" fill="#000"/>
<rect x="190" y="115" width="3" height="3" fill="#000"/>
<rect x="195" y="71" width="1" height="53" fill="#000"/>
<rect x="194" y="88" width="3" height="31" fill="#000"/>
<rect x="195" y="89" width="1" height="29" fill="#fff"/>
<rect x="199" y="79" width="1" height="23" fill="#000"/>
<rect x="198" y="87" width="3" height="3" fill="#000"/>
<rect x="203" y="83" width="1" height="12" fill="#000"/>
<rect x="202" y="89" width="3" height="5" fill="#000"/>
<rect x="207" y="89" width="1" height="7" fill="#000"/>
<rect x="206" y="89" width="3" height="5" fill="#000"/>
<rect x="207" y="90" width="1" height="3" fill="#fff"/>
<rect x="211" y="89" width="1" height="5" fill="#000"/>
<rect x="210" y="89" width="3" height="1" fill="#000"/>
<rect x="215" y="83" width="1" height="17" fill="#000"/>
<rect x="214" y="89" width="3" height="6" fill="#000"/>
<rect x="219" y="84" width="1" height="13" fill="#000"/>
<rect x="218" y="88" width="3" height="8" fill="#000"/>
<rect x="219" y="89" width="1" height="6" fill="#fff"/>
<rect x="223" y="68" width="1" height="33" fill="#000"/>
<rect x="222" y="88" width="3" height="9" fill="#000"/>
<rect x="227" y="92" width="1" height="74" fill="#000"/>
<rect x="226" y="97" width="3" height="63" fill="#000"/>
<rect x="231" y="157" width="1" height="16" fill="#000"/>
<rect x="230" y="158" width="3" height="10" fill="#000"/>
<rect x="235" y="165" width="1" height="27" fill="#000"/>
<rect x="234" y="166" width="3" height="20" fill="#000"/>
<rect x="239" y="180" width="1" height="35" fill="#000"/>
<rect x="238" y="185" width="3" height="9" fill="#000"/>
<rect x="243" y="174" width="1" height="47" fill="#000"/>
<rect x="242" y="178" width="3" height="16" fill="#000"/>
<rect x="243" y="179" width="1" height="14" fill="#fff"/>
<rect x="247" y="161" width="1" height="18" fill="#000"/>
<rect x="246" y="177" width="3" height="2" fill="#000"/>
<rect x="251" y="172" width="1" height="10" fill="#000"/>
<rect x="250" y="174" width="3" height="4" fill="#000"/>
<rect x="251" y="175" width="1" height="2" fill="#fff"/>
<rect x="255" y="172" width="1" height="13" fill="#000"/>
<rect x="254" y="174" width="3" height="11" fill="#000"/>
<rect x="259" y="181" width="1" height="27" fill="#000"/>
<rect x="258" y="184" width="3" height="22" fill="#000"/>
<rect x="263" y="196" width="1" height="29" fill="#000"/>
<rect x="262" y="205" width="3" height="4" fill="#000"/>
<rect x="267" y="189" width="1" height="73" fill="#000"/>
<rect x="266" y="208" width="3" height="35" fill="#000"/>
<rect x="271" y="221" width="1" height="38" fill="#000"/>
<rect x="270" y="231" width="3" height="12" fill="#000"/>
<rect x="271" y="232" width="1" height="10" fill="#fff"/>
<rect x="275" y="225" width="1" height="13" fill="#000"/>
<rect x="274" y="231" width="3" height="4" fill="#000"/>
<rect x="279" y="242" width="1" height="52" fill="#000"/>
<rect x="278" y="246" width="3" height="29" fill="#000"/>
<rect x="283" y="260" width="1" height="15" fill="#000"/>
<rect x="282" y="262" width="3" height="13" fill="#000"/>
<rect x="283" y="263" width="1" height="11" fill="#fff"/>
<rect x="287" y="245" width="1" height="18" fill="#000"/>
<rect x="286" y="254" width="3" height="8" fill="#000"/>
<rect x="287" y="255" width="1" height="6" fill="#fff"/>
<rect x="291" y="245" width="1" height="17" fill="#000"/>
<rect x="290" y="248" width="3" height="6" fill="#000"/>
<rect x="291" y="249" width="1" height="4" fill="#fff"/>
<rect x="295" y="247" width="1" height="21" fill="#000"/>
<rect x="294" y="248" width="3" height="14" fill="#000"/>
<rect x="299" y="253" width="1" height="19" fill="#000"/>
<rect x="298" y="261" width="3" height="3" fill="#000"/>
<rect x="303" y="245" width="1" height="19" fill="#000"/>
<rect x="302" y="252" width="3" height="12" fill="#000"/>
<rect x="303" y="253" width="1" height="10" fill="#fff"/>
<rect x="307" y="230" width="1" height="26" fill="#000"/>
<rect x="306" y="236" width="3" height="17" fill="#000"/>
<rect x="307" y="237" width="1" height="15" fill="#fff"/>
<rect x="311" y="232" width="1" height="19" fill="#000"/>
<rect x="310" y="235" width="3" height="9" fill="#000"/>
<rect x="315" y="231" width="1" height="21" fill="#000"/>
<rect x="314" y="236" width="3" height="8" fill="#000"/>
<rect x="315" y="237" width="1" height="6" fill="#fff"/>
<rect x="319" y="199" width="1" height="49" fill="#000"/>
<rect x="318" y="220" width="3" height="17" fill="#000"/>
<rect x="319" y="221" width="1" height="15" fill="#fff"/>
<rect x="323" y="212" width="1" height="12" fill="#000"/>
<rect x="322" y="220" width="3" height="2" fill="#000"/>
<rect x="327" y="208" width="1" height="14" fill="#000"/>
<rect x="326" y="213" width="3" height="8" fill="#000"/>
<rect x="327" y="214" width="1" height="6" fill="#fff"/>
<rect x="331" y="206" width="1" height="20" fill="#000"/>
<rect x="330" y="213" width="3" height="9" fill="#000"/>
<rect x="335" y="220" width="1" height="45" fill="#000"/>
<rect x="334" y="221" width="3" height="43" fill="#000"/>
<rect x="339" y="246" width="1" height="29" fill="#000"/>
<rect x="338" y="255" width="3" height="8" fill="#000"/>
<rect x="339" y="256" width="1" height="6" fill="#fff"/>
<rect x="343" y="249" width="1" height="32" fill="#000"/>
<rect x="342" y="255" width="3" height="2" fill="#000"/>
<rect x="347" y="255" width="1" height="14" fill="#000"/>
<rect x="346" y="257" width="3" height="5" fill="#000"/>
<rect x="351" y="258" width="1" height="12" fill="#000"/>
<rect x="350" y="262" width="3" height="1" fill="#000"/>
<rect x="355" y="231" width="1" height="33" fill="#000"/>
<rect x="354" y="235" width="3" height="27" fill="#000"/>
<rect x="355" y="236" width="1" height="25" fill="#fff"/>
<rect x="359" y="231" width="1" height="25" fill="#000"/>
<rect x="358" y="235" width="3" height="9" fill="#000"/>
<rect x="363" y="229" width="1" height="94" fill="#000"/>
<rect x="362" y="244" width="3" height="63" fill="#000"/>
<rect x="367" y="287" width="1" height="36" fill="#000"/>
<rect x="366" y="307" width="3" height="15" fill="#000"/>
<rect x="371" y="318" width="1" height="26" fill="#000"/>
<rect x="370" y="321" width="3" height="15" fill="#000"/>
<rect x="375" y="328" width="1" height="13" fill="#000"/>
<rect x="374" y="334" width="3" height="4" fill="#000"/>
<rect x="375" y="335" width="1" height="2" fill="#fff"/>
<rect x="379" y="329" width="1" height="13" fill="#000"/>
<rect x="378" y="334" width="3" height="1" fill="#000"/>
<rect x="383" y="318" width="1" height="18" fill="#000"/>
<rect x="382" y="323" width="3" height="11" fill="#000"/>
<rect x="383" y="324" width="1" height="9" fill="#fff"/>
<rect x="387" y="291" width="1" height="58" fill="#000"/>
<rect x="386" y="323" width="3" height="11" fill="#000"/>
<rect x="391" y="291" width="1" height="43" fill="#000"/>
<rect x="390" y="297" width="3" height="37" fill="#000"/>
<rect x="391" y="298" width="1" height="35" fill="#fff"/>
<rect x="395" y="272" width="1" height="29" fill="#000"/>
<rect x="394" y="282" width="3" height="16" fill="#000"/>
<rect x="395" y="283" width="1" height="14" fill="#fff"/>
<rect x="399" y="265" width="1" height="19" fill="#000"/>
<rect x="398" y="270" width="3" height="1" fill="#000"/>
<rect x="403" y="258" width="1" height="14" fill="#000"/>
<rect x="402" y="265" width="3" height="6" fill="#000"/>
<rect x="403" y="266" width="1" height="4" fill="#fff"/>
<rect x="407" y="255" width="1" height="21" fill="#000"/>
<rect x="406" y="261" width="3" height="5" fill="#000"/>
<rect x="407" y="262" width="1" height="3" fill="#fff"/>
<rect x="411" y="245" width="1" height="25" fill="#000"/>
<rect x="410" y="261" width="3" height="1" fill="#000"/>
<rect x="415" y="261" width="1" height="46" fill="#000"/>
<rect x="414" y="261" width="3" height="41" fill="#000"/>
<rect x="419" y="294" width="1" height="13" fill="#000"/>
<rect x="418" y="302" width="3" height="4" fill="#000"/>
<rect x="423" y="292" width="1" height="15" fill="#000"/>
<rect x="422" y="296" width="3" height="10" fill="#000"/>
<rect x="423" y="297" width="1" height="8" fill="#fff"/>
<rect x="427" y="291" width="1" height="18" fill="#000"/>
<rect x="426" y="296" width="3" height="6" fill="#000"/>
<rect x="431" y="302" width="1" height="21" fill="#000"/>
<rect x="430" y="302" width="3" height="14" fill="#000"/>
<rect x="435" y="293" width="1" height="26" fill="#000"/>
<rect x="434" y="302" width="3" height="13" fill="#000"/>
<rect x="435" y="303" width="1" height="11" fill="#fff"/>
<rect x="439" y="274" width="1" height="38" fill="#000"/>
<rect x="438" y="276" width="3" height="26" fill="#000"/>
<rect x="439" y="277" width="1" height="24" fill="#fff"/>
<rect x="443" y="252" width="1" height="28" fill="#000"/>
<rect x="442" y="268" width="3" height="9" fill="#000"/>
<rect x="443" y="269" width="1" height="7" fill="#fff"/>
<rect x="447" y="267" width="1" height="15" fill="#000"/>
<rect x="446" y="269" width="3" height="9" fill="#000"/>
<rect x="451" y="265" width="1" height="15" fill="#000"/>
<rect x="450" y="265" width="3" height="13" fill="#000"/>
<rect x="451" y="266" width="1" height="11" fill="#fff"/>
<rect x="455" y="253" width="1" height="47" fill="#000"/>
<rect x="454" y="265" width="3" height="29" fill="#000"/>
<rect x="459" y="257" width="1" height="37" fill="#000"/>
<rect x="458" y="272" width="3" height="22" fill="#000"/>
<rect x="459" y="273" width="1" height="20" fill="#fff"/>
<rect x="463" y="260" width="1" height="36" fill="#000"/>
<rect x="462" y="271" width="3" height="23" fill="#000"/>
<rect x="467" y="287" width="1" height="20" fill="#000"/>
<rect x="466" y="293" width="3" height="2" fill="#000"/>
<rect x="471" y="287" width="1" height="14" fill="#000"/>
<rect x="470" y="288" width="3" height="6" fill="#000"/>
<rect x="471" y="289" width="1" height="4" fill="#fff"/>
<rect x="475" y="284" width="1" height="15" fill="#000"/>
<rect x="474" y="287" width="3" height="2" fill="#000"/>
<rect x="479" y="270" width="1" height="26" fill="#000"/>
<rect x="478" y="276" width="3" height="13" fill="#000"/>
<rect x="479" y="277" width="1" height="11" fill="#fff"/>
<rect x="483" y="267" width="1" height="17" fill="#000"/>
<rect x="482" y="276" width="3" height="6" fill="#000"/>
<rect x="487" y="258" width="1" height="25" fill="#000"/>
<rect x="486" y="274" width="3" height="8" fill="#000"/>
<rect x="487" y="275" width="1" height="6" fill="#fff"/>
<rect x="491" y="257" width="1" height="22" fill="#000"/>
<rect x="490" y="267" width="3" height="8" fill="#000"/>
<rect x="491" y="268" width="1" height="6" fill="#fff"/>
<rect x="495" y="265" width="1" height="15" fill="#000"/>
<rect x="494" y="267" width="3" height="8" fill="#000"/>
<rect x="499" y="274" width="1" height="27" fill="#000"/>
<rect x="498" y="274" width="3" height="24" fill="#000"/>
<rect x="503" y="271" width="1" height="30" fill="#000"/>
<rect x="502" y="277" width="3" height="21" fill="#000"/>
<rect x="503" y="278" width="1" height="19" fill="#fff"/>
<rect x="507" y="273" width="1" height="48" fill="#000"/>
<rect x="506" y="276" width="3" height="34" fill="#000"/>
<rect x="511" y="221" width="1" height="94" fill="#000"/>
<rect x="510" y="242" width="3" height="68" fill="#000"/>
<rect x="511" y="243" width="1" height="66" fill="#fff"/>
<rect x="515" y="220" width="1" height="22" fill="#000"/>
<rect x="514" y="233" width="3" height="9" fill="#000"/>
<rect x="515" y="234" width="1" height="7" fill="#fff"/>
<rect x="519" y="218" width="1" height="24" fill="#000"/>
<rect x="518" y="223" width="3" height="9" fill="#000"/>
<rect x="519" y="224" width="1" height="7" fill="#fff"/>
<rect x="523" y="198" width="1" height="26" fill="#000"/>
<rect x="522" y="220" width="3" height="3" fill="#000"/>
<rect x="523" y="221" width="1" height="1" fill="#fff"/>
<rect x="527" y="218" width="1" height="46" fill="#000"/>
<rect x="526" y="220" width="3" height="38" fill="#000"/>
<rect x="531" y="246" width="1" height="16" fill="#000"/>
<rect x="530" y="253" width="3" height="4" fill="#000"/>
<rect x="531" y="254" width="1" height="2" fill="#fff"/>
<rect x="535" y="248" width="1" height="42" fill="#000"/>
<rect x="534" y="253" width="3" height="35" fill="#000"/>
<rect x="539" y="278" width="1" height="10" fill="#000"/>
<rect x="538" y="286" width="3" height="2" fill="#000"/>
<rect x="543" y="272" width="1" height="19" fill="#000"/>
<rect x="542" y="273" width="3" height="14" fill="#000"/>
<rect x="543" y="274" width="1" height="12" fill="#fff"/>
<rect x="547" y="267" width="1" height="7" fill="#000"/>
<rect x="546" y="270" width="3" height="4" fill="#000"/>
<rect x="547" y="271" width="1" height="2" fill="#fff"/>
<rect x="551" y="239" width="1" height="34" fill="#000"/>
<rect x="550" y="241" width="3" height="30" fill="#000"/>
<rect x="551" y="242" width="1" height="28" fill="#fff"/>
<rect x="555" y="224" width="1" height="25" fill="#000"/>
<rect x="554" y="232" width="3" height="9" fill="#000"/>
<rect x="555" y="233" width="1" height="7" fill="#fff"/>
<rect x="559" y="220" width="1" height="31" fill="#000"/>
<rect x="558" y="230" width="3" height="2" fill="#000"/>
<rect x="563" y="223" width="1" height="9" fill="#000"/>
<rect x="562" y="227" width="3" height="4" fill="#000"/>
<rect x="563" y="228" width="1" height="2" fill="#fff"/>
<rect x="567" y="226" width="1" height="16" fill="#000"/>
<rect x="566" y="227" width="3" height="9" fill="#000"/>
<rect x="571" y="234" width="1" height="10" fill="#000"/>
<rect x="570" y="234" width="3" height="2" fill="#000"/>
<rect x="575" y="219" width="1" height="24" fill="#000"/>
<rect x="574" y="230" width="3" height="5" fill="#000"/>
<rect x="575" y="231" width="1" height="3" fill="#fff"/>
<rect x="579" y="203" width="1" height="33" fill="#000"/>
<rect x="578" y="206" width="3" height="25" fill="#000"/>
<rect x="579" y="207" width="1" height="23" fill="#fff"/>
<rect x="583" y="204" width="1" height="32" fill="#000"/>
<rect x="582" y="206" width="3" height="12" fill="#000"/>
<rect x="587" y="183" width="1" height="53" fill="#000"/>
<rect x="586" y="215" width="3" height="3" fill="#000"/>
<rect x="587" y="216" width="1" height="1" fill="#fff"/>
<rect x="591" y="213" width="1" height="19" fill="#000"/>
<rect x="590" y="215" width="3" height="11" fill="#000"/>
<rect x="595" y="218" width="1" height="10" fill="#000"/>
<rect x="594" y="225" width="3" height="1" fill="#000"/>
<rect x="3" y="377" width="1" height="58" fill="#c0c0c0"/>
<rect x="7" y="371" width="1" height="64" fill="#c0c0c0"/>
<rect x="11" y="369" width="1" height="66" fill="#c0c0c0"/>
<rect x="15" y="370" width="1" height="65" fill="#c0c0c0"/>
<rect x="19" y="372" width="1" height="63" fill="#c0c0c0"/>
<rect x="23" y="374" width="1" height="61" fill="#c0c0c0"/>
<rect x="27" y="376" width="1" height="59" fill="#c0c0c0"/>
<rect x="31" y="380" width="1" height="55" fill="#c0c0c0"/>
<rect x="35" y="385" width="1" height="50" fill="#c0c0c0"/>
<rect x="39" y="396" width="1" height="39" fill="#c0c0c0"/>
<rect x="43" y="402" width="1" height="33" fill="#c0c0c0"/>
<rect x="47" y="407" width="1" height="28" fill="#c0c0c0"/>
<rect x="51" y="410" width="1" height="25" fill="#c0c0c0"/>
<rect x="55" y="409" width="1" height="26" fill="#c0c0c0"/>
<rect x="59" y="407" width="1" height="28" fill="#c0c0c0"/>
<rect x="63" y="407" width="1" height="28" fill="#c0c0c0"/>
<rect x="67" y="405" width="1" height="30" fill="#c0c0c0"/>
<rect x="71" y="405" width="1" height="30" fill="#c0c0c0"/>
<rect x="75" y="410" width="1" height="25" fill="#c0c0c0"/>
<rect x="79" y="419" width="1" height="16" fill="#c0c0c0"/>
<rect x="83" y="429" width="1" height="6" fill="#c0c0c0"/>
<rect x="87" y="434" width="1" height="2" fill="#c0c0c0"/>
<rect x="91" y="434" width="1" height="7" fill="#c0c0c0"/>
<rect x="95" y="434" width="1" height="15" fill="#c0c0c0"/>
<rect x="99" y="434" width="1" height="25" fill="#c0c0c0"/>
<rect x="103" y="434" width="1" height="34" fill="#c0c0c0"/>
<rect x="107" y="434" width="1" height="42" fill="#c0c0c0"/>
<rect x="111" y="434" width="1" height="49" fill="#c0c0c0"/>
<rect x="115" y="434" width="1" height="54" fill="#c0c0c0"/>
<rect x="119" y="434" width="1" height="54" fill="#c0c0c0"/>
<rect x="123" y="434" width="1" height="54" fill="#c0c0c0"/>
<rect x="127" y="434" width="1" height="55" fill="#c0c0c0"/>
<rect x="131" y="434" width="1" height="57" fill="#c0c0c0"/>
<rect x="135" y="434" width="1" height="52" fill="#c0c0c0"/>
<rect x="139" y="434" width="1" height="50" fill="#c0c0c0"/>
<rect x="143" y="434" width="1" height="48" fill="#c0c0c0"/>
<rect x="147" y="434" width="1" height="44" fill="#c0c0c0"/>
<rect x="151" y="434" width="1" height="42" fill="#c0c0c0"/>
<rect x="155" y="434" width="1" height="37" fill="#c0c0c0"/>
<rect x="159" y="434" width="1" height="31" fill="#c0c0c0"/>
<rect x="163" y="434" width="1" height="26" fill="#c0c0c0"/>
<rect x="167" y="434" width="1" height="21" fill="#c0c0c0"/>
<rect x="171" y="434" width="1" height="19" fill="#c0c0c0"/>
<rect x="175" y="434" width="1" height="14" fill="#c0c0c0"/>
<rect x="179" y="434" width="1" height="10" fill="#c0c0c0"/>
<rect x="183" y="434" width="1" height="6" fill="#c0c0c0"/>
<rect x="187" y="434" width="1" height="4" fill="#c0c0c0"/>
<rect x="191" y="434" width="1" height="2" fill="#c0c0c0"/>
<rect x="195" y="426" width="1" height="9" fill="#c0c0c0"/>
<rect x="199" y="425" width="1" height="10" fill="#c0c0c0"/>
<rect x="203" y="422" width="1" height="13" fill="#c0c0c0"/>
<rect x="207" y="421" width="1" height="14" fill="#c0c0c0"/>
<rect x="211" y="417" width="1" height="18" fill="#c0c0c0"/>
<rect x="215" y="416" width="1" height="19" fill="#c0c0c0"/>
<rect x="219" y="415" width="1" height="20" fill="#c0c0c0"/>
<rect x="223" y="416" width="1" height="19" fill="#c0c0c0"/>
<rect x="227" y="434" width="1" height="1" fill="#c0c0c0"/>
<rect x="231" y="434" width="1" height="6" fill="#c0c0c0"/>
<rect x="235" y="434" width="1" height="21" fill="#c0c0c0"/>
<rect x="239" y="434" width="1" height="33" fill="#c0c0c0"/>
<rect x="243" y="434" width="1" height="38" fill="#c0c0c0"/>
<rect x="247" y="434" width="1" height="43" fill="#c0c0c0"/>
<rect x="251" y="434" width="1" height="45" fill="#c0c0c0"/>
<rect x="255" y="434" width="1" height="48" fill="#c0c0c0"/>
<rect x="259" y="434" width="1" height="58" fill="#c0c0c0"/>
<rect x="263" y="434" width="1" height="58" fill="#c0c0c0"/>
<rect x="267" y="434" width="1" height="69" fill="#c0c0c0"/>
<rect x="271" y="434" width="1" height="74" fill="#c0c0c0"/>
<rect x="275" y="434" width="1" height="77" fill="#c0c0c0"/>
<rect x="279" y="434" width="1" height="87" fill="#c0c0c0"/>
<rect x="283" y="434" width="1" height="92" fill="#c0c0c0"/>
<rect x="287" y="434" width="1" height="93" fill="#c0c0c0"/>
<rect x="291" y="434" width="1" height="93" fill="#c0c0c0"/>
<rect x="295" y="434" width="1" height="92" fill="#c0c0c0"/>
<rect x="299" y="434" width="1" height="91" fill="#c0c0c0"/>
<rect x="303" y="434" width="1" height="88" fill="#c0c0c0"/>
<rect x="307" y="434" width="1" height="81" fill="#c0c0c0"/>
<rect x="311" y="434" width="1" height="76" fill="#c0c0c0"/>
<rect x="315" y="434" width="1" height="70" fill="#c0c0c0"/>
<rect x="319" y="434" width="1" height="60" fill="#c0c0c0"/>
<rect x="323" y="434" width="1" height="52" fill="#c0c0c0"/>
<rect x="327" y="434" width="1" height="45" fill="#c0c0c0"/>
<rect x="331" y="434" width="1" height="40" fill="#c0c0c0"/>
<rect x="335" y="434" width="1" height="44" fill="#c0c0c0"/>
<rect x="339" y="434" width="1" height="45" fill="#c0c0c0"/>
<rect x="343" y="434" width="1" height="46" fill="#c0c0c0"/>
<rect x="347" y="434" width="1" height="47" fill="#c0c0c0"/>
<rect x="351" y="434" width="1" height="47" fill="#c0c0c0"/>
<rect x="355" y="434" width="1" height="42" fill="#c0c0c0"/>
<rect x="359" y="434" width="1" height="38" fill="#c0c0c0"/>
<rect x="363" y="434" width="1" height="47" fill="#c0c0c0"/>
<rect x="367" y="434" width="1" height="58" fill="#c0c0c0"/>
<rect x="371" y="434" width="1" height="68" fill="#c0c0c0"/>
<rect x="375" y="434" width="1" height="76" fill="#c0c0c0"/>
<rect x="379" y="434" width="1" height="80" fill="#c0c0c0"/>
<rect x="383" y="434" width="1" height="82" fill="#c0c0c0"/>
<rect x="387" y="434" width="1" height="83" fill="#c0c0c0"/>
<rect x="391" y="434" width="1" height="75" fill="#c0c0c0"/>
<rect x="395" y="434" width="1" height="65" fill="#c0c0c0"/>
<rect x="399" y="434" width="1" height="54" fill="#c0c0c0"/>
<rect x="403" y="434" width="1" height="44" fill="#c0c0c0"/>
<rect x="407" y="434" width="1" height="36" fill="#c0c0c0"/>
<rect x="411" y="434" width="1" height="28" fill="#c0c0c0"/>
<rect x="415" y="434" width="1" height="30" fill="#c0c0c0"/>
<rect x="419" y="434" width="1" height="32" fill="#c0c0c0"/>
<rect x="423" y="434" width="1" height="31" fill="#c0c0c0"/>
<rect x="427" y="434" width="1" height="32" fill="#c0c0c0"/>
<rect x="431" y="434" width="1" height="35" fill="#c0c0c0"/>
<rect x="435" y="434" width="1" height="33" fill="#c0c0c0"/>
<rect x="439" y="434" width="1" height="26" fill="#c0c0c0"/>
<rect x="443" y="434" width="1" height="19" fill="#c0c0c0"/>
<rect x="447" y="434" width="1" height="15" fill="#c0c0c0"/>
<rect x="451" y="434" width="1" height="12" fill="#c0c0c0"/>
<rect x="455" y="434" width="1" height="12" fill="#c0c0c0"/>
<rect x="459" y="434" width="1" height="8" fill="#c0c0c0"/>
<rect x="463" y="434" width="1" height="8" fill="#c0c0c0"/>
<rect x="467" y="434" width="1" height="10" fill="#c0c0c0"/>
<rect x="471" y="434" width="1" height="9" fill="#c0c0c0"/>
<rect x="475" y="434" width="1" height="9" fill="#c0c0c0"/>
<rect x="479" y="434" width="1" height="6" fill="#c0c0c0"/>
<rect x="483" y="434" width="1" height="5" fill="#c0c0c0"/>
<rect x="487" y="434" width="1" height="2" fill="#c0c0c0"/>
<rect x="491" y="434" width="1" height="1" fill="#c0c0c0"/>
<rect x="495" y="434" width="1" height="1" fill="#c0c0c0"/>
<rect x="499" y="434" width="1" height="2" fill="#c0c0c0"/>
<rect x="503" y="434" width="1" height="2" fill="#c0c0c0"/>
<rect x="507" y="434" width="1" height="4" fill="#c0c0c0"/>
<rect x="511" y="432" width="1" height="3" fill="#c0c0c0"/>
<rect x="515" y="421" width="1" height="14" fill="#c0c0c0"/>
<rect x="519" y="413" width="1" height="22" fill="#c0c0c0"/>
<rect x="523" y="406" width="1" height="29" fill="#c0c0c0"/>
<rect x="527" y="408" width="1" height="27" fill="#c0c0c0"/>
<rect x="531" y="409" width="1" height="26" fill="#c0c0c0"/>
<rect x="535" y="417" width="1" height="18" fill="#c0c0c0"/>
<rect x="539" y="423" width="1" height="12" fill="#c0c0c0"/>
<rect x="543" y="426" width="1" height="9" fill="#c0c0c0"/>
<rect x="547" y="427" width="1" height="8" fill="#c0c0c0"/>
<rect x="551" y="423" width="1" height="12" fill="#c0c0c0"/>
<rect x="555" y="417" width="1" height="18" fill="#c0c0c0"/>
<rect x="559" y="413" width="1" height="22" fill="#c0c0c0"/>
<rect x="563" y="409" width="1" height="26" fill="#c0c0c0"/>
<rect x="567" y="408" width="1" height="27" fill="#c0c0c0"/>
<rect x="571" y="407" width="1" height="28" fill="#c0c0c0"/>
<rect x="575" y="406" width="1" height="29" fill="#c0c0c0"/>
<rect x="579" y="399" width="1" height="36" fill="#c0c0c0"/>
<rect x="583" y="398" width="1" height="37" fill="#c0c0c0"/>
<rect x="587" y="398" width="1" height="37" fill="#c0c0c0"/>
<rect x="591" y="399" width="1" height="36" fill="#c0c0c0"/>
<rect x="595" y="401" width="1" height="34" fill="#c0c0c0"/>
<path d="M25 371h8v1h-8zM22 372h13v1h-13zM21 373h5v1h-5zM32 373h5v1h-5zM19 374h4v1h-4zM34 374h5v1h-5zM18 375h4v1h-4zM36 375h4v1h-4zM17 376h3v1h-3zM38 376h4v1h-4zM16 377h3v1h-3zM39 377h4v1h-4zM15 378h3v1h-3zM41 378h3v1h-3zM14 379h3v1h-3zM42 379h3v1h-3zM13 380h3v1h-3zM43 380h3v1h-3zM13 381h2v1h-2zM44 381h3v1h-3zM12 382h3v1h-3zM45 382h3v1h-3zM12 383h2v1h-2zM46 383h3v1h-3zM11 384h3v1h-3zM47 384h3v1h-3zM11 385h2v1h-2zM48 385h3v1h-3zM10 386h3v1h-3zM49 386h3v1h-3zM9 387h3v1h-3zM50 387h3v1h-3zM9 388h2v1h-2zM51 388h3v1h-3zM8 389h3v1h-3zM52 389h3v1h-3zM8 390h2v1h-2zM53 390h3v1h-3zM7 391h3v1h-3zM54 391h3v1h-3zM7 392h2v1h-2zM55 392h3v1h-3zM6 393h3v1h-3zM56 393h3v1h-3zM6 394h2v1h-2zM57 394h3v1h-3zM5 395h3v1h-3zM58 395h3v1h-3zM5 396h2v1h-2zM59 396h3v1h-3zM4 397h3v1h-3zM60 397h3v1h-3zM4 398h2v1h-2zM61 398h4v1h-4zM3 399h3v1h-3zM62 399h5v1h-5zM3 400h2v1h-2zM64 400h5v1h-5zM2 401h3v1h-3zM66 401h5v1h-5zM593 401h3v1h-3zM2 402h2v1h-2zM68 402h6v1h-6zM590 402h6v1h-6zM2 403h2v1h-2zM70 403h6v1h-6zM588 403h6v1h-6zM73 404h5v1h-5zM586 404h5v1h-5zM75 405h4v1h-4zM585 405h4v1h-4zM77 406h4v1h-4zM583 406h4v1h-4zM78 407h5v1h-5zM582 407h4v1h-4zM80 408h4v1h-4zM581 408h3v1h-3zM82 409h3v1h-3zM579 409h4v1h-4zM83 410h3v1h-3zM578 410h4v1h-4zM84 411h3v1h-3zM577 411h3v1h-3zM85 412h3v1h-3zM575 412h4v1h-4zM86 413h3v1h-3zM574 413h4v1h-4zM87 414h3v1h-3zM572 414h4v1h-4zM88 415h3v1h-3zM545 415h9v1h-9zM569 415h6v1h-6zM89 416h3v1h-3zM541 416h32v1h-32zM90 417h3v1h-3zM538 417h8v1h-8zM553 417h17v1h-17zM91 418h3v1h-3zM536 418h6v1h-6zM92 419h3v1h-3zM225 419h5v1h-5zM534 419h5v1h-5zM93 420h3v1h-3zM222 420h10v1h-10zM532 420h5v1h-5zM94 421h3v1h-3zM220 421h6v1h-6zM229 421h4v1h-4zM530 421h5v1h-5zM95 422h2v1h-2zM218 422h5v1h-5zM231 422h3v1h-3zM529 422h4v1h-4zM95 423h3v1h-3zM217 423h4v1h-4zM232 423h3v1h-3zM527 423h4v1h-4zM96 424h3v1h-3zM216 424h3v1h-3zM233 424h3v1h-3zM526 424h4v1h-4zM97 425h2v1h-2zM215 425h3v1h-3zM234 425h3v1h-3zM525 425h3v1h-3zM97 426h3v1h-3zM214 426h3v1h-3zM235 426h3v1h-3zM523 426h4v1h-4zM98 427h3v1h-3zM213 427h3v1h-3zM236 427h3v1h-3zM522 427h4v1h-4zM99 428h2v1h-2zM211 428h4v1h-4zM237 428h3v1h-3zM521 428h3v1h-3zM99 429h3v1h-3zM210 429h4v1h-4zM238 429h3v1h-3zM519 429h4v1h-4zM100 430h2v1h-2zM209 430h3v1h-3zM239 430h2v1h-2zM518 430h4v1h-4zM100 431h3v1h-3zM208 431h3v1h-3zM239 431h3v1h-3zM516 431h4v1h-4zM101 432h2v1h-2zM207 432h3v1h-3zM240 432h3v1h-3zM514 432h5v1h-5zM101 433h3v1h-3zM206 433h3v1h-3zM241 433h2v1h-2zM513 433h4v1h-4zM102 434h2v1h-2zM205 434h3v1h-3zM241 434h3v1h-3zM511 434h4v1h-4zM102 435h3v1h-3zM203 435h4v1h-4zM242 435h3v1h-3zM509 435h5v1h-5zM103 436h2v1h-2zM202 436h4v1h-4zM243 436h2v1h-2zM505 436h7v1h-7zM103 437h3v1h-3zM201 437h3v1h-3zM243 437h3v1h-3zM501 437h9v1h-9zM104 438h2v1h-2zM200 438h3v1h-3zM244 438h2v1h-2zM497 438h9v1h-9zM104 439h3v1h-3zM199 439h3v1h-3zM244 439h3v1h-3zM493 439h9v1h-9zM105 440h2v1h-2zM198 440h3v1h-3zM245 440h2v1h-2zM489 440h9v1h-9zM105 441h3v1h-3zM197 441h3v1h-3zM245 441h3v1h-3zM485 441h9v1h-9zM106 442h2v1h-2zM196 442h3v1h-3zM246 442h3v1h-3zM481 442h9v1h-9zM106 443h3v1h-3zM195 443h3v1h-3zM247 443h2v1h-2zM478 443h8v1h-8zM107 444h2v1h-2zM194 444h3v1h-3zM247 444h3v1h-3zM476 444h6v1h-6zM107 445h3v1h-3zM193 445h3v1h-3zM248 445h2v1h-2zM474 445h5v1h-5zM108 446h2v1h-2zM192 446h3v1h-3zM248 446h3v1h-3zM472 446h5v1h-5zM108 447h3v1h-3zM191 447h3v1h-3zM249 447h2v1h-2zM470 447h5v1h-5zM109 448h2v1h-2zM190 448h3v1h-3zM249 448h3v1h-3zM468 448h5v1h-5zM109 449h3v1h-3zM189 449h3v1h-3zM250 449h2v1h-2zM466 449h5v1h-5zM110 450h2v1h-2zM187 450h4v1h-4zM250 450h3v1h-3zM465 450h4v1h-4zM110 451h3v1h-3zM186 451h4v1h-4zM251 451h2v1h-2zM463 451h4v1h-4zM111 452h2v1h-2zM185 452h3v1h-3zM251 452h3v1h-3zM462 452h4v1h-4zM111 453h3v1h-3zM184 453h3v1h-3zM252 453h2v1h-2zM461 453h3v1h-3zM112 454h2v1h-2zM184 454h2v1h-2zM252 454h3v1h-3zM460 454h3v1h-3zM112 455h3v1h-3zM183 455h3v1h-3zM253 455h2v1h-2zM459 455h3v1h-3zM113 456h2v1h-2zM182 456h3v1h-3zM253 456h3v1h-3zM458 456h3v1h-3zM113 457h3v1h-3zM181 457h3v1h-3zM254 457h2v1h-2zM456 457h4v1h-4zM114 458h2v1h-2zM180 458h3v1h-3zM254 458h2v1h-2zM454 458h5v1h-5zM114 459h3v1h-3zM180 459h2v1h-2zM254 459h3v1h-3zM452 459h5v1h-5zM115 460h2v1h-2zM179 460h3v1h-3zM255 460h2v1h-2zM450 460h5v1h-5zM115 461h3v1h-3zM178 461h3v1h-3zM255 461h3v1h-3zM448 461h5v1h-5zM116 462h3v1h-3zM177 462h3v1h-3zM256 462h2v1h-2zM445 462h6v1h-6zM117 463h2v1h-2zM176 463h3v1h-3zM256 463h3v1h-3zM442 463h7v1h-7zM117 464h3v1h-3zM175 464h3v1h-3zM257 464h2v1h-2zM440 464h6v1h-6zM118 465h3v1h-3zM174 465h3v1h-3zM257 465h3v1h-3zM438 465h5v1h-5zM119 466h3v1h-3zM173 466h3v1h-3zM258 466h3v1h-3zM436 466h5v1h-5zM120 467h2v1h-2zM172 467h3v1h-3zM259 467h2v1h-2zM434 467h5v1h-5zM120 468h3v1h-3zM171 468h3v1h-3zM259 468h3v1h-3zM432 468h5v1h-5zM121 469h3v1h-3zM170 469h3v1h-3zM260 469h2v1h-2zM430 469h5v1h-5zM122 470h3v1h-3zM169 470h3v1h-3zM260 470h3v1h-3zM429 470h4v1h-4zM123 471h3v1h-3zM168 471h3v1h-3zM261 471h2v1h-2zM428 471h3v1h-3zM124 472h2v1h-2zM167 472h3v1h-3zM261 472h3v1h-3zM427 472h3v1h-3zM124 473h3v1h-3zM166 473h3v1h-3zM262 473h3v1h-3zM426 473h3v1h-3zM125 474h3v1h-3zM165 474h3v1h-3zM263 474h2v1h-2zM425 474h3v1h-3zM126 475h3v1h-3zM164 475h3v1h-3zM263 475h3v1h-3zM424 475h3v1h-3zM127 476h3v1h-3zM163 476h3v1h-3zM264 476h3v1h-3zM424 476h2v1h-2zM128 477h2v1h-2zM162 477h3v1h-3zM265 477h2v1h-2zM358 477h7v1h-7zM423 477h3v1h-3zM128 478h3v1h-3zM161 478h3v1h-3zM265 478h3v1h-3zM356 478h11v1h-11zM422 478h3v1h-3zM129 479h3v1h-3zM159 479h4v1h-4zM266 479h3v1h-3zM354 479h5v1h-5zM364 479h4v1h-4zM421 479h3v1h-3zM130 480h3v1h-3zM158 480h4v1h-4zM267 480h2v1h-2zM352 480h5v1h-5zM366 480h4v1h-4zM420 480h3v1h-3zM131 481h3v1h-3zM156 481h4v1h-4zM267 481h3v1h-3zM350 481h5v1h-5zM367 481h4v1h-4zM420 481h2v1h-2zM132 482h3v1h-3zM154 482h5v1h-5zM268 482h3v1h-3zM349 482h4v1h-4zM369 482h3v1h-3zM419 482h3v1h-3zM133 483h5v1h-5zM152 483h5v1h-5zM269 483h2v1h-2zM347 483h4v1h-4zM370 483h4v1h-4zM418 483h3v1h-3zM134 484h8v1h-8zM149 484h6v1h-6zM269 484h3v1h-3zM346 484h4v1h-4zM371 484h4v1h-4zM417 484h3v1h-3zM137 485h16v1h-16zM270 485h3v1h-3zM345 485h3v1h-3zM373 485h3v1h-3zM416 485h3v1h-3zM141 486h9v1h-9zM271 486h3v1h-3zM344 486h3v1h-3zM374 486h3v1h-3zM416 486h2v1h-2zM272 487h2v1h-2zM343 487h3v1h-3zM375 487h3v1h-3zM415 487h3v1h-3zM272 488h3v1h-3zM342 488h3v1h-3zM376 488h3v1h-3zM414 488h3v1h-3zM273 489h3v1h-3zM341 489h3v1h-3zM377 489h3v1h-3zM413 489h3v1h-3zM274 490h3v1h-3zM340 490h3v1h-3zM378 490h3v1h-3zM413 490h2v1h-2zM275 491h2v1h-2zM339 491h3v1h-3zM379 491h3v1h-3zM412 491h3v1h-3zM275 492h3v1h-3zM338 492h3v1h-3zM380 492h3v1h-3zM411 492h3v1h-3zM276 493h3v1h-3zM337 493h3v1h-3zM381 493h3v1h-3zM411 493h2v1h-2zM277 494h2v1h-2zM336 494h3v1h-3zM382 494h3v1h-3zM410 494h3v1h-3zM277 495h3v1h-3zM335 495h3v1h-3zM383 495h3v1h-3zM409 495h3v1h-3zM278 496h3v1h-3zM334 496h3v1h-3zM384 496h3v1h-3zM409 496h2v1h-2zM279 497h3v1h-3zM333 497h3v1h-3zM385 497h3v1h-3zM408 497h3v1h-3zM280 498h2v1h-2zM333 498h2v1h-2zM386 498h3v1h-3zM407 498h3v1h-3zM280 499h3v1h-3zM332 499h3v1h-3zM387 499h3v1h-3zM407 499h2v1h-2zM281 500h3v1h-3zM331 500h3v1h-3zM388 500h3v1h-3zM406 500h3v1h-3zM282 501h3v1h-3zM331 501h2v1h-2zM389 501h3v1h-3zM405 501h3v1h-3zM283 502h2v1h-2zM330 502h3v1h-3zM390 502h4v1h-4zM403 502h4v1h-4zM283 503h3v1h-3zM329 503h3v1h-3zM391 503h4v1h-4zM401 503h5v1h-5zM284 504h3v1h-3zM328 504h3v1h-3zM393 504h11v1h-11zM285 505h2v1h-2zM328 505h2v1h-2zM394 505h8v1h-8zM285 506h3v1h-3zM327 506h3v1h-3zM286 507h3v1h-3zM326 507h3v1h-3zM287 508h3v1h-3zM325 508h3v1h-3zM288 509h3v1h-3zM324 509h3v1h-3zM289 510h3v1h-3zM324 510h2v1h-2zM290 511h3v1h-3zM323 511h3v1h-3zM291 512h3v1h-3zM322 512h3v1h-3zM292 513h2v1h-2zM321 513h3v1h-3zM292 514h3v1h-3zM320 514h3v1h-3zM293 515h3v1h-3zM319 515h3v1h-3zM294 516h3v1h-3zM318 516h3v1h-3zM295 517h3v1h-3zM317 517h3v1h-3zM296 518h3v1h-3zM316 518h3v1h-3zM297 519h4v1h-4zM315 519h3v1h-3zM298 520h5v1h-5zM313 520h4v1h-4zM300 521h16v1h-16zM302 522h12v1h-12z" fill="#ff0000"/>
<path d="M587 568h1v1h-1zM587 569h2v1h-2zM167 570h2v1h-2zM525 570h1v1h-1zM527 570h1v1h-1zM167 571h1v1h-1zM524 571h1v1h-1zM528 571h1v1h-1zM171 572h1v1h-1zM523 572h1v1h-1zM528 572h1v1h-1zM172 573h1v1h-1zM585 573h1v1h-1zM591 573h1v1h-1zM172 574h1v1h-1zM585 574h1v1h-1zM591 574h1v1h-1zM166 575h1v1h-1zM584 575h1v1h-1zM592 575h1v1h-1zM165 576h1v1h-1zM522 576h1v1h-1zM529 576h1v1h-1zM165 577h1v1h-1zM522 577h1v1h-1zM529 577h1v1h-1zM174 578h1v1h-1zM522 578h1v1h-1zM529 578h1v1h-1zM175 579h1v1h-1zM191 579h1v1h-1zM583 579h1v1h-1zM593 579h1v1h-1zM176 580h1v1h-1zM189 580h2v1h-2zM582 580h1v1h-1zM593 580h1v1h-1zM164 581h1v1h-1zM195 581h3v1h-3zM582 581h1v1h-1zM593 581h1v1h-1zM164 582h1v1h-1zM201 582h3v1h-3zM521 582h1v1h-1zM530 582h1v1h-1zM3 583h1v1h-1zM164 583h1v1h-1zM185 583h1v1h-1zM331 583h1v1h-1zM521 583h1v1h-1zM531 583h1v1h-1zM3 584h1v1h-1zM24 584h1v1h-1zM178 584h1v1h-1zM184 584h1v1h-1zM207 584h3v1h-3zM331 584h2v1h-2zM520 584h1v1h-1zM531 584h1v1h-1zM4 585h1v1h-1zM25 585h2v1h-2zM178 585h1v1h-1zM183 585h1v1h-1zM581 585h1v1h-1zM594 585h1v1h-1zM179 586h1v1h-1zM213 586h1v1h-1zM581 586h1v1h-1zM594 586h1v1h-1zM21 587h1v1h-1zM163 587h1v1h-1zM214 587h1v1h-1zM335 587h1v1h-1zM580 587h1v1h-1zM595 587h1v1h-1zM20 588h1v1h-1zM163 588h1v1h-1zM215 588h1v1h-1zM329 588h1v1h-1zM335 588h1v1h-1zM520 588h1v1h-1zM531 588h1v1h-1zM5 589h1v1h-1zM19 589h1v1h-1zM29 589h1v1h-1zM162 589h1v1h-1zM219 589h1v1h-1zM329 589h1v1h-1zM336 589h1v1h-1zM519 589h1v1h-1zM532 589h1v1h-1zM6 590h1v1h-1zM30 590h1v1h-1zM220 590h1v1h-1zM328 590h1v1h-1zM519 590h1v1h-1zM532 590h1v1h-1zM6 591h1v1h-1zM31 591h1v1h-1zM221 591h1v1h-1zM579 591h1v1h-1zM578 592h1v1h-1zM16 593h1v1h-1zM162 593h1v1h-1zM336 593h1v1h-1zM568 593h2v1h-2zM578 593h1v1h-1zM15 594h1v1h-1zM162 594h1v1h-1zM327 594h1v1h-1zM336 594h1v1h-1zM414 594h2v1h-2zM519 594h1v1h-1zM532 594h1v1h-1zM564 594h1v1h-1zM570 594h1v1h-1zM8 595h2v1h-2zM14 595h1v1h-1zM32 595h1v1h-1zM74 595h2v1h-2zM161 595h1v1h-1zM223 595h1v1h-1zM327 595h1v1h-1zM337 595h1v1h-1zM413 595h1v1h-1zM519 595h1v1h-1zM532 595h1v1h-1zM563 595h1v1h-1zM10 596h1v1h-1zM33 596h1v1h-1zM75 596h1v1h-1zM224 596h1v1h-1zM326 596h1v1h-1zM518 596h1v1h-1zM533 596h1v1h-1zM563 596h1v1h-1zM33 597h1v1h-1zM71 597h1v1h-1zM224 597h1v1h-1zM410 597h1v1h-1zM574 597h1v1h-1zM576 597h1v1h-1zM70 598h1v1h-1zM410 598h1v1h-1zM417 598h1v1h-1zM575 598h1v1h-1zM70 599h1v1h-1zM161 599h1v1h-1zM337 599h1v1h-1zM409 599h1v1h-1zM417 599h1v1h-1zM76 600h1v1h-1zM161 600h1v1h-1zM325 600h1v1h-1zM337 600h1v1h-1zM418 600h1v1h-1zM518 600h1v1h-1zM533 600h1v1h-1zM561 600h1v1h-1zM34 601h1v1h-1zM76 601h1v1h-1zM160 601h1v1h-1zM225 601h1v1h-1zM325 601h1v1h-1zM338 601h1v1h-1zM518 601h1v1h-1zM533 601h1v1h-1zM561 601h1v1h-1zM35 602h1v1h-1zM77 602h1v1h-1zM225 602h1v1h-1zM325 602h1v1h-1zM518 602h1v1h-1zM534 602h1v1h-1zM561 602h1v1h-1zM35 603h1v1h-1zM68 603h1v1h-1zM225 603h1v1h-1zM407 603h1v1h-1zM68 604h1v1h-1zM407 604h1v1h-1zM419 604h1v1h-1zM451 604h1v1h-1zM454 604h3v1h-3zM495 604h1v1h-1zM67 605h1v1h-1zM160 605h1v1h-1zM338 605h1v1h-1zM407 605h1v1h-1zM420 605h1v1h-1zM450 605h1v1h-1zM494 605h1v1h-1zM78 606h1v1h-1zM160 606h1v1h-1zM324 606h1v1h-1zM338 606h1v1h-1zM420 606h1v1h-1zM450 606h1v1h-1zM493 606h1v1h-1zM517 606h1v1h-1zM534 606h1v1h-1zM560 606h1v1h-1zM36 607h1v1h-1zM78 607h1v1h-1zM159 607h1v1h-1zM226 607h1v1h-1zM324 607h1v1h-1zM339 607h1v1h-1zM459 607h1v1h-1zM517 607h1v1h-1zM534 607h1v1h-1zM559 607h1v1h-1zM36 608h1v1h-1zM78 608h1v1h-1zM227 608h1v1h-1zM323 608h1v1h-1zM460 608h1v1h-1zM497 608h1v1h-1zM517 608h1v1h-1zM534 608h1v1h-1zM559 608h1v1h-1zM36 609h1v1h-1zM66 609h1v1h-1zM227 609h1v1h-1zM406 609h1v1h-1zM460 609h1v1h-1zM497 609h1v1h-1zM66 610h1v1h-1zM406 610h1v1h-1zM421 610h1v1h-1zM449 610h1v1h-1zM489 610h1v1h-1zM498 610h1v1h-1zM65 611h1v1h-1zM159 611h1v1h-1zM339 611h1v1h-1zM406 611h1v1h-1zM421 611h1v1h-1zM448 611h1v1h-1zM489 611h1v1h-1zM79 612h1v1h-1zM159 612h1v1h-1zM322 612h1v1h-1zM339 612h1v1h-1zM422 612h1v1h-1zM448 612h1v1h-1zM488 612h1v1h-1zM516 612h1v1h-1zM535 612h1v1h-1zM558 612h1v1h-1zM37 613h1v1h-1zM79 613h1v1h-1zM158 613h1v1h-1zM228 613h1v1h-1zM322 613h1v1h-1zM339 613h1v1h-1zM462 613h1v1h-1zM516 613h1v1h-1zM535 613h1v1h-1zM558 613h1v1h-1zM37 614h1v1h-1zM79 614h1v1h-1zM228 614h1v1h-1zM322 614h1v1h-1zM462 614h1v1h-1zM500 614h1v1h-1zM516 614h1v1h-1zM535 614h1v1h-1zM558 614h1v1h-1zM37 615h1v1h-1zM64 615h1v1h-1zM228 615h1v1h-1zM405 615h1v1h-1zM462 615h1v1h-1zM500 615h1v1h-1zM64 616h1v1h-1zM404 616h1v1h-1zM423 616h1v1h-1zM447 616h1v1h-1zM485 616h1v1h-1zM500 616h1v1h-1zM63 617h1v1h-1zM158 617h1v1h-1zM340 617h1v1h-1zM404 617h1v1h-1zM423 617h1v1h-1zM446 617h1v1h-1zM485 617h1v1h-1zM80 618h1v1h-1zM157 618h1v1h-1zM321 618h1v1h-1zM340 618h1v1h-1zM424 618h1v1h-1zM446 618h1v1h-1zM484 618h1v1h-1zM516 618h1v1h-1zM536 618h1v1h-1zM557 618h1v1h-1zM38 619h1v1h-1zM80 619h1v1h-1zM157 619h1v1h-1zM228 619h1v1h-1zM321 619h1v1h-1zM340 619h1v1h-1zM465 619h1v1h-1zM516 619h1v1h-1zM536 619h1v1h-1zM557 619h1v1h-1zM38 620h1v1h-1zM80 620h1v1h-1zM229 620h1v1h-1zM320 620h1v1h-1zM466 620h1v1h-1zM502 620h1v1h-1zM515 620h1v1h-1zM537 620h1v1h-1zM556 620h1v1h-1zM38 621h1v1h-1zM62 621h1v1h-1zM229 621h1v1h-1zM403 621h1v1h-1zM467 621h1v1h-1zM502 621h1v1h-1zM62 622h1v1h-1zM403 622h1v1h-1zM425 622h1v1h-1zM445 622h1v1h-1zM482 622h1v1h-1zM503 622h1v1h-1zM61 623h1v1h-1zM156 623h1v1h-1zM341 623h1v1h-1zM403 623h1v1h-1zM425 623h1v1h-1zM445 623h1v1h-1zM482 623h1v1h-1zM80 624h1v1h-1zM156 624h1v1h-1zM319 624h1v1h-1zM341 624h1v1h-1zM425 624h1v1h-1zM444 624h1v1h-1zM481 624h1v1h-1zM515 624h1v1h-1zM537 624h1v1h-1zM555 624h1v1h-1zM39 625h1v1h-1zM81 625h1v1h-1zM156 625h1v1h-1zM229 625h1v1h-1zM319 625h1v1h-1zM341 625h1v1h-1zM469 625h1v1h-1zM515 625h1v1h-1zM537 625h1v1h-1zM555 625h1v1h-1zM39 626h1v1h-1zM81 626h1v1h-1zM229 626h1v1h-1zM319 626h1v1h-1zM469 626h1v1h-1zM504 626h1v1h-1zM514 626h1v1h-1zM538 626h1v1h-1zM555 626h1v1h-1zM40 627h1v1h-1zM60 627h1v1h-1zM229 627h1v1h-1zM402 627h1v1h-1zM470 627h1v1h-1zM504 627h1v1h-1zM60 628h1v1h-1zM402 628h1v1h-1zM427 628h1v1h-1zM443 628h1v1h-1zM479 628h1v1h-1zM504 628h1v1h-1zM59 629h1v1h-1zM155 629h1v1h-1zM341 629h1v1h-1zM402 629h1v1h-1zM427 629h1v1h-1zM443 629h1v1h-1zM479 629h1v1h-1zM81 630h1v1h-1zM155 630h1v1h-1zM317 630h1v1h-1zM342 630h1v1h-1zM428 630h1v1h-1zM443 630h1v1h-1zM472 630h2v1h-2zM478 630h1v1h-1zM513 630h1v1h-1zM538 630h1v1h-1zM554 630h1v1h-1zM41 631h1v1h-1zM81 631h1v1h-1zM155 631h1v1h-1zM230 631h1v1h-1zM317 631h1v1h-1zM342 631h1v1h-1zM474 631h1v1h-1zM513 631h1v1h-1zM539 631h1v1h-1zM554 631h1v1h-1zM41 632h1v1h-1zM81 632h1v1h-1zM230 632h1v1h-1zM317 632h1v1h-1zM505 632h1v1h-1zM513 632h1v1h-1zM539 632h1v1h-1zM554 632h1v1h-1zM41 633h1v1h-1zM58 633h1v1h-1zM230 633h1v1h-1zM401 633h1v1h-1zM505 633h1v1h-1zM58 634h1v1h-1zM401 634h1v1h-1zM430 634h1v1h-1zM441 634h1v1h-1zM505 634h1v1h-1zM57 635h1v1h-1zM153 635h1v1h-1zM342 635h1v1h-1zM401 635h1v1h-1zM430 635h1v1h-1zM440 635h1v1h-1zM82 636h1v1h-1zM153 636h1v1h-1zM316 636h1v1h-1zM342 636h1v1h-1zM431 636h1v1h-1zM440 636h1v1h-1zM512 636h1v1h-1zM540 636h1v1h-1zM553 636h1v1h-1zM42 637h1v1h-1zM82 637h1v1h-1zM153 637h1v1h-1zM231 637h1v1h-1zM315 637h1v1h-1zM342 637h1v1h-1zM512 637h1v1h-1zM540 637h1v1h-1zM552 637h1v1h-1zM42 638h1v1h-1zM82 638h1v1h-1zM231 638h1v1h-1zM315 638h1v1h-1zM506 638h1v1h-1zM511 638h1v1h-1zM540 638h1v1h-1zM552 638h1v1h-1zM43 639h1v1h-1zM56 639h1v1h-1zM231 639h1v1h-1zM400 639h1v1h-1zM435 639h3v1h-3zM506 639h1v1h-1zM55 640h1v1h-1zM400 640h1v1h-1zM506 640h1v1h-1zM55 641h1v1h-1zM152 641h1v1h-1zM343 641h1v1h-1zM400 641h1v1h-1zM83 642h1v1h-1zM151 642h1v1h-1zM314 642h1v1h-1zM343 642h1v1h-1zM509 642h1v1h-1zM541 642h1v1h-1zM551 642h1v1h-1zM44 643h1v1h-1zM83 643h1v1h-1zM151 643h1v1h-1zM232 643h1v1h-1zM313 643h1v1h-1zM343 643h1v1h-1zM508 643h1v1h-1zM541 643h1v1h-1zM551 643h1v1h-1zM44 644h1v1h-1zM83 644h1v1h-1zM232 644h1v1h-1zM313 644h1v1h-1zM507 644h1v1h-1zM542 644h1v1h-1zM550 644h1v1h-1zM45 645h1v1h-1zM53 645h1v1h-1zM232 645h1v1h-1zM399 645h1v1h-1zM52 646h1v1h-1zM399 646h1v1h-1zM52 647h1v1h-1zM149 647h1v1h-1zM344 647h1v1h-1zM399 647h1v1h-1zM83 648h1v1h-1zM149 648h1v1h-1zM312 648h1v1h-1zM344 648h1v1h-1zM543 648h1v1h-1zM548 648h1v1h-1zM47 649h1v1h-1zM84 649h1v1h-1zM149 649h1v1h-1zM232 649h1v1h-1zM312 649h1v1h-1zM344 649h1v1h-1zM543 649h2v1h-2zM548 649h1v1h-1zM47 650h2v1h-2zM84 650h1v1h-1zM232 650h1v1h-1zM311 650h1v1h-1zM547 650h1v1h-1zM232 651h1v1h-1zM362 651h1v1h-1zM398 651h1v1h-1zM361 652h1v1h-1zM398 652h1v1h-1zM147 653h1v1h-1zM345 653h1v1h-1zM361 653h1v1h-1zM364 653h1v1h-1zM398 653h1v1h-1zM84 654h1v1h-1zM146 654h1v1h-1zM310 654h1v1h-1zM345 654h1v1h-1zM365 654h1v1h-1zM84 655h1v1h-1zM146 655h1v1h-1zM233 655h1v1h-1zM309 655h1v1h-1zM346 655h1v1h-1zM365 655h1v1h-1zM84 656h1v1h-1zM233 656h1v1h-1zM309 656h1v1h-1zM233 657h1v1h-1zM358 657h1v1h-1zM397 657h1v1h-1zM358 658h1v1h-1zM397 658h1v1h-1zM144 659h1v1h-1zM346 659h1v1h-1zM357 659h1v1h-1zM367 659h1v1h-1zM397 659h1v1h-1zM85 660h1v1h-1zM143 660h1v1h-1zM307 660h1v1h-1zM347 660h1v1h-1zM367 660h1v1h-1zM85 661h1v1h-1zM142 661h1v1h-1zM234 661h1v1h-1zM307 661h1v1h-1zM347 661h1v1h-1zM367 661h1v1h-1zM85 662h1v1h-1zM234 662h1v1h-1zM306 662h1v1h-1zM234 663h1v1h-1zM300 663h1v1h-1zM355 663h1v1h-1zM396 663h1v1h-1zM301 664h2v1h-2zM355 664h1v1h-1zM396 664h1v1h-1zM140 665h1v1h-1zM296 665h1v1h-1zM348 665h1v1h-1zM354 665h1v1h-1zM368 665h1v1h-1zM396 665h1v1h-1zM86 666h1v1h-1zM140 666h1v1h-1zM295 666h1v1h-1zM349 666h1v1h-1zM368 666h1v1h-1zM86 667h1v1h-1zM139 667h1v1h-1zM234 667h1v1h-1zM294 667h1v1h-1zM349 667h1v1h-1zM369 667h1v1h-1zM86 668h1v1h-1zM234 668h1v1h-1zM235 669h1v1h-1zM254 669h1v1h-1zM258 669h1v1h-1zM352 669h1v1h-1zM395 669h1v1h-1zM254 670h1v1h-1zM259 670h1v1h-1zM352 670h1v1h-1zM395 670h1v1h-1zM137 671h1v1h-1zM253 671h1v1h-1zM260 671h1v1h-1zM292 671h1v1h-1zM351 671h1v1h-1zM369 671h1v1h-1zM395 671h1v1h-1zM87 672h1v1h-1zM136 672h1v1h-1zM291 672h1v1h-1zM370 672h1v1h-1zM87 673h1v1h-1zM136 673h1v1h-1zM235 673h1v1h-1zM290 673h1v1h-1zM370 673h1v1h-1zM87 674h1v1h-1zM235 674h1v1h-1zM235 675h1v1h-1zM251 675h1v1h-1zM262 675h1v1h-1zM394 675h1v1h-1zM251 676h1v1h-1zM262 676h1v1h-1zM394 676h1v1h-1zM133 677h1v1h-1zM250 677h1v1h-1zM263 677h1v1h-1zM288 677h1v1h-1zM371 677h1v1h-1zM393 677h1v1h-1zM88 678h1v1h-1zM132 678h1v1h-1zM288 678h1v1h-1zM371 678h1v1h-1zM88 679h1v1h-1zM132 679h1v1h-1zM236 679h1v1h-1zM287 679h1v1h-1zM371 679h1v1h-1zM88 680h1v1h-1zM236 680h1v1h-1zM237 681h1v1h-1zM249 681h1v1h-1zM264 681h1v1h-1zM392 681h1v1h-1zM248 682h1v1h-1zM265 682h1v1h-1zM392 682h1v1h-1zM129 683h1v1h-1zM248 683h1v1h-1zM265 683h1v1h-1zM285 683h1v1h-1zM372 683h1v1h-1zM392 683h1v1h-1zM89 684h1v1h-1zM129 684h1v1h-1zM284 684h1v1h-1zM372 684h1v1h-1zM89 685h1v1h-1zM128 685h1v1h-1zM237 685h1v1h-1zM283 685h1v1h-1zM372 685h1v1h-1zM89 686h1v1h-1zM238 686h1v1h-1zM238 687h1v1h-1zM247 687h1v1h-1zM267 687h1v1h-1zM391 687h1v1h-1zM246 688h1v1h-1zM267 688h1v1h-1zM391 688h1v1h-1zM126 689h1v1h-1zM246 689h1v1h-1zM268 689h1v1h-1zM279 689h1v1h-1zM373 689h1v1h-1zM390 689h1v1h-1zM90 690h1v1h-1zM126 690h1v1h-1zM278 690h1v1h-1zM374 690h1v1h-1zM90 691h1v1h-1zM125 691h1v1h-1zM239 691h1v1h-1zM277 691h1v1h-1zM374 691h1v1h-1zM90 692h1v1h-1zM239 692h1v1h-1zM239 693h1v1h-1zM244 693h1v1h-1zM271 693h3v1h-3zM389 693h1v1h-1zM243 694h1v1h-1zM388 694h1v1h-1zM124 695h1v1h-1zM243 695h1v1h-1zM375 695h1v1h-1zM388 695h1v1h-1zM91 696h1v1h-1zM123 696h1v1h-1zM375 696h1v1h-1zM92 697h1v1h-1zM123 697h1v1h-1zM376 697h1v1h-1zM93 698h1v1h-1zM385 699h1v1h-1zM97 700h1v1h-1zM384 700h1v1h-1zM98 701h2v1h-2zM121 701h1v1h-1zM378 701h1v1h-1zM383 701h1v1h-1zM103 702h2v1h-2zM120 702h1v1h-1zM378 702h1v1h-1zM105 703h1v1h-1zM120 703h1v1h-1zM379 703h1v1h-1zM109 705h1v1h-1zM110 706h1v1h-1zM111 707h1v1h-1zM116 707h2v1h-2zM115 708h1v1h-1z" fill="#ff0000"/>
<path d="M583 560h1v1h-1zM519 561h5v1h-5zM583 561h1v1h-1zM163 562h2v1h-2zM519 562h1v1h-1zM523 562h1v1h-1zM582 562h1v1h-1zM584 562h1v1h-1zM163 563h1v1h-1zM165 563h2v1h-2zM519 563h1v1h-1zM523 563h1v1h-1zM582 563h1v1h-1zM584 563h1v1h-1zM163 564h1v1h-1zM167 564h1v1h-1zM519 564h1v1h-1zM524 564h1v1h-1zM582 564h1v1h-1zM585 564h1v1h-1zM162 565h1v1h-1zM167 565h1v1h-1zM518 565h1v1h-1zM524 565h1v1h-1zM582 565h1v1h-1zM585 565h1v1h-1zM162 566h1v1h-1zM167 566h1v1h-1zM518 566h1v1h-1zM524 566h1v1h-1zM581 566h1v1h-1zM586 566h1v1h-1zM162 567h1v1h-1zM168 567h1v1h-1zM518 567h1v1h-1zM524 567h1v1h-1zM581 567h1v1h-1zM586 567h1v1h-1zM162 568h1v1h-1zM168 568h1v1h-1zM518 568h1v1h-1zM524 568h1v1h-1zM581 568h1v1h-1zM587 568h1v1h-1zM162 569h1v1h-1zM168 569h1v1h-1zM518 569h1v1h-1zM524 569h1v1h-1zM580 569h1v1h-1zM587 569h1v1h-1zM162 570h1v1h-1zM168 570h1v1h-1zM518 570h1v1h-1zM525 570h1v1h-1zM580 570h1v1h-1zM587 570h1v1h-1zM161 571h1v1h-1zM169 571h1v1h-1zM518 571h1v1h-1zM525 571h1v1h-1zM580 571h1v1h-1zM588 571h1v1h-1zM161 572h1v1h-1zM169 572h1v1h-1zM518 572h1v1h-1zM525 572h1v1h-1zM580 572h1v1h-1zM588 572h1v1h-1zM161 573h1v1h-1zM169 573h1v1h-1zM517 573h1v1h-1zM525 573h1v1h-1zM579 573h1v1h-1zM588 573h1v1h-1zM161 574h1v1h-1zM169 574h1v1h-1zM517 574h1v1h-1zM525 574h1v1h-1zM579 574h1v1h-1zM588 574h1v1h-1zM161 575h1v1h-1zM169 575h1v1h-1zM327 575h1v1h-1zM517 575h1v1h-1zM525 575h1v1h-1zM579 575h1v1h-1zM588 575h1v1h-1zM161 576h1v1h-1zM170 576h1v1h-1zM327 576h3v1h-3zM517 576h1v1h-1zM526 576h1v1h-1zM579 576h1v1h-1zM589 576h1v1h-1zM160 577h1v1h-1zM170 577h1v1h-1zM327 577h1v1h-1zM330 577h1v1h-1zM517 577h1v1h-1zM526 577h1v1h-1zM578 577h1v1h-1zM589 577h1v1h-1zM160 578h1v1h-1zM170 578h1v1h-1zM183 578h2v1h-2zM326 578h1v1h-1zM331 578h1v1h-1zM517 578h1v1h-1zM526 578h1v1h-1zM578 578h1v1h-1zM589 578h1v1h-1zM160 579h1v1h-1zM170 579h1v1h-1zM183 579h1v1h-1zM185 579h2v1h-2zM326 579h1v1h-1zM331 579h1v1h-1zM517 579h1v1h-1zM526 579h1v1h-1zM578 579h1v1h-1zM589 579h1v1h-1zM160 580h1v1h-1zM171 580h1v1h-1zM182 580h1v1h-1zM187 580h3v1h-3zM326 580h1v1h-1zM331 580h1v1h-1zM516 580h1v1h-1zM526 580h1v1h-1zM578 580h1v1h-1zM589 580h1v1h-1zM160 581h1v1h-1zM171 581h1v1h-1zM182 581h1v1h-1zM190 581h4v1h-4zM326 581h1v1h-1zM331 581h1v1h-1zM516 581h1v1h-1zM526 581h1v1h-1zM578 581h1v1h-1zM590 581h1v1h-1zM160 582h1v1h-1zM171 582h1v1h-1zM182 582h1v1h-1zM194 582h8v1h-8zM326 582h1v1h-1zM332 582h1v1h-1zM516 582h1v1h-1zM527 582h1v1h-1zM578 582h1v1h-1zM590 582h1v1h-1zM15 583h1v1h-1zM159 583h1v1h-1zM171 583h1v1h-1zM181 583h1v1h-1zM202 583h2v1h-2zM325 583h1v1h-1zM332 583h1v1h-1zM516 583h1v1h-1zM527 583h1v1h-1zM577 583h1v1h-1zM590 583h1v1h-1zM15 584h2v1h-2zM23 584h1v1h-1zM159 584h1v1h-1zM172 584h1v1h-1zM181 584h1v1h-1zM204 584h2v1h-2zM325 584h1v1h-1zM332 584h1v1h-1zM516 584h1v1h-1zM527 584h1v1h-1zM577 584h1v1h-1zM590 584h1v1h-1zM14 585h1v1h-1zM16 585h1v1h-1zM22 585h1v1h-1zM24 585h1v1h-1zM159 585h1v1h-1zM172 585h1v1h-1zM180 585h1v1h-1zM206 585h1v1h-1zM325 585h1v1h-1zM332 585h1v1h-1zM516 585h1v1h-1zM527 585h1v1h-1zM577 585h1v1h-1zM590 585h1v1h-1zM14 586h1v1h-1zM17 586h1v1h-1zM21 586h1v1h-1zM25 586h1v1h-1zM71 586h1v1h-1zM159 586h1v1h-1zM173 586h1v1h-1zM180 586h1v1h-1zM207 586h2v1h-2zM325 586h1v1h-1zM332 586h1v1h-1zM516 586h1v1h-1zM527 586h1v1h-1zM577 586h1v1h-1zM591 586h1v1h-1zM14 587h1v1h-1zM18 587h1v1h-1zM21 587h1v1h-1zM26 587h1v1h-1zM70 587h2v1h-2zM159 587h1v1h-1zM173 587h1v1h-1zM180 587h1v1h-1zM209 587h2v1h-2zM324 587h1v1h-1zM332 587h1v1h-1zM516 587h1v1h-1zM527 587h1v1h-1zM577 587h1v1h-1zM591 587h1v1h-1zM14 588h1v1h-1zM18 588h1v1h-1zM20 588h1v1h-1zM27 588h1v1h-1zM70 588h2v1h-2zM159 588h1v1h-1zM174 588h1v1h-1zM179 588h1v1h-1zM211 588h1v1h-1zM324 588h1v1h-1zM332 588h1v1h-1zM515 588h1v1h-1zM528 588h1v1h-1zM563 588h1v1h-1zM577 588h1v1h-1zM591 588h1v1h-1zM13 589h1v1h-1zM19 589h1v1h-1zM27 589h1v1h-1zM69 589h1v1h-1zM72 589h1v1h-1zM158 589h1v1h-1zM174 589h1v1h-1zM178 589h2v1h-2zM212 589h2v1h-2zM324 589h1v1h-1zM333 589h1v1h-1zM411 589h1v1h-1zM515 589h1v1h-1zM528 589h1v1h-1zM562 589h2v1h-2zM576 589h1v1h-1zM591 589h1v1h-1zM13 590h1v1h-1zM28 590h1v1h-1zM68 590h1v1h-1zM72 590h1v1h-1zM158 590h1v1h-1zM175 590h3v1h-3zM214 590h1v1h-1zM218 590h2v1h-2zM324 590h1v1h-1zM333 590h1v1h-1zM410 590h2v1h-2zM515 590h1v1h-1zM528 590h1v1h-1zM560 590h2v1h-2zM564 590h1v1h-1zM576 590h1v1h-1zM591 590h1v1h-1zM13 591h1v1h-1zM28 591h1v1h-1zM68 591h1v1h-1zM72 591h1v1h-1zM158 591h1v1h-1zM215 591h3v1h-3zM219 591h1v1h-1zM324 591h1v1h-1zM333 591h1v1h-1zM409 591h1v1h-1zM412 591h1v1h-1zM515 591h1v1h-1zM528 591h1v1h-1zM559 591h1v1h-1zM564 591h1v1h-1zM576 591h1v1h-1zM592 591h1v1h-1zM12 592h1v1h-1zM29 592h1v1h-1zM67 592h1v1h-1zM72 592h1v1h-1zM158 592h1v1h-1zM220 592h1v1h-1zM323 592h1v1h-1zM333 592h1v1h-1zM409 592h1v1h-1zM412 592h1v1h-1zM515 592h1v1h-1zM528 592h1v1h-1zM559 592h1v1h-1zM565 592h1v1h-1zM576 592h1v1h-1zM592 592h1v1h-1zM12 593h1v1h-1zM29 593h1v1h-1zM67 593h1v1h-1zM73 593h1v1h-1zM158 593h1v1h-1zM220 593h1v1h-1zM323 593h1v1h-1zM333 593h1v1h-1zM408 593h1v1h-1zM412 593h1v1h-1zM515 593h1v1h-1zM528 593h1v1h-1zM558 593h1v1h-1zM565 593h1v1h-1zM576 593h1v1h-1zM592 593h1v1h-1zM12 594h1v1h-1zM29 594h1v1h-1zM66 594h1v1h-1zM73 594h1v1h-1zM158 594h1v1h-1zM221 594h1v1h-1zM323 594h1v1h-1zM333 594h1v1h-1zM407 594h1v1h-1zM413 594h1v1h-1zM515 594h1v1h-1zM528 594h1v1h-1zM558 594h1v1h-1zM566 594h1v1h-1zM576 594h1v1h-1zM592 594h1v1h-1zM12 595h1v1h-1zM30 595h1v1h-1zM66 595h1v1h-1zM73 595h1v1h-1zM158 595h1v1h-1zM221 595h1v1h-1zM323 595h1v1h-1zM333 595h1v1h-1zM407 595h1v1h-1zM413 595h1v1h-1zM514 595h1v1h-1zM529 595h1v1h-1zM558 595h1v1h-1zM566 595h1v1h-1zM575 595h1v1h-1zM593 595h1v1h-1zM11 596h1v1h-1zM30 596h1v1h-1zM66 596h1v1h-1zM73 596h1v1h-1zM157 596h1v1h-1zM222 596h1v1h-1zM323 596h1v1h-1zM333 596h1v1h-1zM406 596h1v1h-1zM414 596h1v1h-1zM451 596h1v1h-1zM514 596h1v1h-1zM529 596h1v1h-1zM558 596h1v1h-1zM567 596h1v1h-1zM575 596h1v1h-1zM593 596h1v1h-1zM10 597h2v1h-2zM31 597h1v1h-1zM66 597h1v1h-1zM73 597h1v1h-1zM157 597h1v1h-1zM222 597h1v1h-1zM322 597h1v1h-1zM334 597h1v1h-1zM406 597h1v1h-1zM414 597h1v1h-1zM450 597h2v1h-2zM514 597h1v1h-1zM529 597h1v1h-1zM557 597h1v1h-1zM568 597h1v1h-1zM575 597h1v1h-1zM593 597h1v1h-1zM7 598h3v1h-3zM31 598h1v1h-1zM65 598h1v1h-1zM74 598h1v1h-1zM157 598h1v1h-1zM223 598h1v1h-1zM322 598h1v1h-1zM334 598h1v1h-1zM405 598h1v1h-1zM414 598h1v1h-1zM450 598h2v1h-2zM514 598h1v1h-1zM529 598h1v1h-1zM557 598h1v1h-1zM568 598h1v1h-1zM574 598h1v1h-1zM593 598h1v1h-1zM5 599h2v1h-2zM31 599h1v1h-1zM65 599h1v1h-1zM74 599h1v1h-1zM157 599h1v1h-1zM223 599h1v1h-1zM322 599h1v1h-1zM334 599h1v1h-1zM405 599h1v1h-1zM415 599h1v1h-1zM449 599h1v1h-1zM452 599h1v1h-1zM514 599h1v1h-1zM529 599h1v1h-1zM557 599h1v1h-1zM569 599h1v1h-1zM574 599h1v1h-1zM594 599h1v1h-1zM3 600h2v1h-2zM31 600h1v1h-1zM65 600h1v1h-1zM74 600h1v1h-1zM157 600h1v1h-1zM223 600h1v1h-1zM322 600h1v1h-1zM334 600h1v1h-1zM404 600h1v1h-1zM415 600h1v1h-1zM448 600h1v1h-1zM452 600h1v1h-1zM514 600h1v1h-1zM529 600h1v1h-1zM557 600h1v1h-1zM569 600h1v1h-1zM573 600h1v1h-1zM594 600h1v1h-1zM31 601h1v1h-1zM65 601h1v1h-1zM74 601h1v1h-1zM157 601h1v1h-1zM223 601h1v1h-1zM321 601h1v1h-1zM334 601h1v1h-1zM404 601h1v1h-1zM415 601h1v1h-1zM448 601h1v1h-1zM452 601h1v1h-1zM514 601h1v1h-1zM529 601h1v1h-1zM556 601h1v1h-1zM570 601h1v1h-1zM572 601h1v1h-1zM594 601h1v1h-1zM32 602h1v1h-1zM64 602h1v1h-1zM75 602h1v1h-1zM157 602h1v1h-1zM223 602h1v1h-1zM321 602h1v1h-1zM334 602h1v1h-1zM403 602h1v1h-1zM415 602h1v1h-1zM447 602h1v1h-1zM452 602h1v1h-1zM495 602h1v1h-1zM513 602h1v1h-1zM530 602h1v1h-1zM556 602h1v1h-1zM570 602h1v1h-1zM572 602h1v1h-1zM594 602h1v1h-1zM32 603h1v1h-1zM64 603h1v1h-1zM75 603h1v1h-1zM156 603h1v1h-1zM224 603h1v1h-1zM321 603h1v1h-1zM334 603h1v1h-1zM403 603h1v1h-1zM416 603h1v1h-1zM446 603h1v1h-1zM453 603h1v1h-1zM493 603h3v1h-3zM513 603h1v1h-1zM530 603h1v1h-1zM556 603h1v1h-1zM571 603h1v1h-1zM595 603h1v1h-1zM32 604h1v1h-1zM64 604h1v1h-1zM75 604h1v1h-1zM156 604h1v1h-1zM224 604h1v1h-1zM321 604h1v1h-1zM335 604h1v1h-1zM403 604h1v1h-1zM416 604h1v1h-1zM446 604h1v1h-1zM453 604h1v1h-1zM491 604h2v1h-2zM495 604h1v1h-1zM513 604h1v1h-1zM530 604h1v1h-1zM556 604h1v1h-1zM595 604h1v1h-1zM32 605h1v1h-1zM64 605h1v1h-1zM75 605h1v1h-1zM156 605h1v1h-1zM224 605h1v1h-1zM321 605h1v1h-1zM335 605h1v1h-1zM402 605h1v1h-1zM416 605h1v1h-1zM445 605h1v1h-1zM453 605h1v1h-1zM490 605h1v1h-1zM495 605h1v1h-1zM513 605h1v1h-1zM530 605h1v1h-1zM555 605h1v1h-1zM595 605h1v1h-1zM32 606h1v1h-1zM63 606h1v1h-1zM75 606h1v1h-1zM156 606h1v1h-1zM224 606h1v1h-1zM320 606h1v1h-1zM335 606h1v1h-1zM402 606h1v1h-1zM416 606h1v1h-1zM445 606h1v1h-1zM453 606h1v1h-1zM488 606h2v1h-2zM496 606h1v1h-1zM513 606h1v1h-1zM530 606h1v1h-1zM555 606h1v1h-1zM32 607h1v1h-1zM63 607h1v1h-1zM75 607h1v1h-1zM156 607h1v1h-1zM224 607h1v1h-1zM320 607h1v1h-1zM335 607h1v1h-1zM402 607h1v1h-1zM417 607h1v1h-1zM444 607h1v1h-1zM453 607h1v1h-1zM487 607h1v1h-1zM496 607h1v1h-1zM513 607h1v1h-1zM530 607h1v1h-1zM555 607h1v1h-1zM33 608h1v1h-1zM63 608h1v1h-1zM75 608h1v1h-1zM156 608h1v1h-1zM224 608h1v1h-1zM320 608h1v1h-1zM335 608h1v1h-1zM401 608h1v1h-1zM417 608h1v1h-1zM444 608h1v1h-1zM454 608h1v1h-1zM486 608h1v1h-1zM496 608h1v1h-1zM513 608h1v1h-1zM530 608h1v1h-1zM555 608h1v1h-1zM33 609h1v1h-1zM62 609h1v1h-1zM76 609h1v1h-1zM156 609h1v1h-1zM224 609h1v1h-1zM320 609h1v1h-1zM335 609h1v1h-1zM401 609h1v1h-1zM417 609h1v1h-1zM443 609h1v1h-1zM454 609h1v1h-1zM486 609h1v1h-1zM496 609h1v1h-1zM512 609h1v1h-1zM531 609h1v1h-1zM555 609h1v1h-1zM33 610h1v1h-1zM62 610h1v1h-1zM76 610h1v1h-1zM155 610h1v1h-1zM224 610h1v1h-1zM319 610h1v1h-1zM335 610h1v1h-1zM401 610h1v1h-1zM417 610h1v1h-1zM443 610h1v1h-1zM454 610h1v1h-1zM459 610h1v1h-1zM485 610h1v1h-1zM496 610h1v1h-1zM512 610h1v1h-1zM531 610h1v1h-1zM554 610h1v1h-1zM33 611h1v1h-1zM61 611h1v1h-1zM76 611h1v1h-1zM155 611h1v1h-1zM224 611h1v1h-1zM319 611h1v1h-1zM335 611h1v1h-1zM401 611h1v1h-1zM418 611h1v1h-1zM443 611h1v1h-1zM454 611h1v1h-1zM458 611h2v1h-2zM484 611h1v1h-1zM496 611h1v1h-1zM512 611h1v1h-1zM531 611h1v1h-1zM554 611h1v1h-1zM33 612h1v1h-1zM61 612h1v1h-1zM76 612h1v1h-1zM155 612h1v1h-1zM224 612h1v1h-1zM319 612h1v1h-1zM336 612h1v1h-1zM400 612h1v1h-1zM418 612h1v1h-1zM443 612h1v1h-1zM455 612h1v1h-1zM457 612h1v1h-1zM459 612h1v1h-1zM484 612h1v1h-1zM496 612h1v1h-1zM512 612h1v1h-1zM531 612h1v1h-1zM554 612h1v1h-1zM33 613h1v1h-1zM60 613h1v1h-1zM76 613h1v1h-1zM155 613h1v1h-1zM225 613h1v1h-1zM319 613h1v1h-1zM336 613h1v1h-1zM400 613h1v1h-1zM418 613h1v1h-1zM442 613h1v1h-1zM455 613h2v1h-2zM460 613h1v1h-1zM483 613h1v1h-1zM497 613h1v1h-1zM512 613h1v1h-1zM531 613h1v1h-1zM554 613h1v1h-1zM33 614h1v1h-1zM60 614h1v1h-1zM76 614h1v1h-1zM155 614h1v1h-1zM225 614h1v1h-1zM318 614h1v1h-1zM336 614h1v1h-1zM400 614h1v1h-1zM418 614h1v1h-1zM442 614h1v1h-1zM455 614h1v1h-1zM460 614h1v1h-1zM482 614h1v1h-1zM497 614h1v1h-1zM512 614h1v1h-1zM531 614h1v1h-1zM553 614h1v1h-1zM34 615h1v1h-1zM59 615h1v1h-1zM76 615h1v1h-1zM155 615h1v1h-1zM225 615h1v1h-1zM318 615h1v1h-1zM336 615h1v1h-1zM399 615h1v1h-1zM419 615h1v1h-1zM442 615h1v1h-1zM460 615h1v1h-1zM481 615h1v1h-1zM497 615h1v1h-1zM512 615h1v1h-1zM531 615h1v1h-1zM553 615h1v1h-1zM34 616h1v1h-1zM59 616h1v1h-1zM76 616h1v1h-1zM154 616h1v1h-1zM225 616h1v1h-1zM318 616h1v1h-1zM336 616h1v1h-1zM399 616h1v1h-1zM419 616h1v1h-1zM442 616h1v1h-1zM460 616h1v1h-1zM481 616h1v1h-1zM497 616h1v1h-1zM511 616h1v1h-1zM532 616h1v1h-1zM553 616h1v1h-1zM34 617h1v1h-1zM59 617h1v1h-1zM76 617h1v1h-1zM154 617h1v1h-1zM225 617h1v1h-1zM317 617h1v1h-1zM336 617h1v1h-1zM399 617h1v1h-1zM419 617h1v1h-1zM442 617h1v1h-1zM461 617h1v1h-1zM480 617h1v1h-1zM497 617h1v1h-1zM511 617h1v1h-1zM532 617h1v1h-1zM553 617h1v1h-1zM34 618h1v1h-1zM58 618h1v1h-1zM76 618h1v1h-1zM154 618h1v1h-1zM225 618h1v1h-1zM317 618h1v1h-1zM336 618h1v1h-1zM399 618h1v1h-1zM419 618h1v1h-1zM442 618h1v1h-1zM461 618h1v1h-1zM479 618h1v1h-1zM497 618h1v1h-1zM511 618h1v1h-1zM532 618h1v1h-1zM553 618h1v1h-1zM34 619h1v1h-1zM58 619h1v1h-1zM77 619h1v1h-1zM154 619h1v1h-1zM225 619h1v1h-1zM317 619h1v1h-1zM336 619h1v1h-1zM399 619h1v1h-1zM420 619h1v1h-1zM441 619h1v1h-1zM461 619h1v1h-1zM479 619h1v1h-1zM498 619h1v1h-1zM511 619h1v1h-1zM532 619h1v1h-1zM552 619h1v1h-1zM34 620h1v1h-1zM58 620h1v1h-1zM77 620h1v1h-1zM154 620h1v1h-1zM225 620h1v1h-1zM317 620h1v1h-1zM336 620h1v1h-1zM398 620h1v1h-1zM420 620h1v1h-1zM441 620h1v1h-1zM461 620h1v1h-1zM478 620h1v1h-1zM498 620h1v1h-1zM511 620h1v1h-1zM532 620h1v1h-1zM552 620h1v1h-1zM35 621h1v1h-1zM58 621h1v1h-1zM77 621h1v1h-1zM153 621h1v1h-1zM225 621h1v1h-1zM316 621h1v1h-1zM337 621h1v1h-1zM398 621h1v1h-1zM420 621h1v1h-1zM441 621h1v1h-1zM461 621h1v1h-1zM478 621h1v1h-1zM498 621h1v1h-1zM511 621h1v1h-1zM532 621h1v1h-1zM552 621h1v1h-1zM35 622h1v1h-1zM57 622h1v1h-1zM77 622h1v1h-1zM153 622h1v1h-1zM226 622h1v1h-1zM316 622h1v1h-1zM337 622h1v1h-1zM398 622h1v1h-1zM420 622h1v1h-1zM441 622h1v1h-1zM462 622h1v1h-1zM478 622h1v1h-1zM498 622h1v1h-1zM511 622h1v1h-1zM533 622h1v1h-1zM552 622h1v1h-1zM35 623h1v1h-1zM57 623h1v1h-1zM77 623h1v1h-1zM153 623h1v1h-1zM226 623h1v1h-1zM316 623h1v1h-1zM337 623h1v1h-1zM398 623h1v1h-1zM421 623h1v1h-1zM441 623h1v1h-1zM462 623h1v1h-1zM478 623h1v1h-1zM498 623h1v1h-1zM511 623h1v1h-1zM533 623h1v1h-1zM551 623h1v1h-1zM35 624h1v1h-1zM57 624h1v1h-1zM77 624h1v1h-1zM153 624h1v1h-1zM226 624h1v1h-1zM315 624h1v1h-1zM337 624h1v1h-1zM398 624h1v1h-1zM421 624h1v1h-1zM440 624h1v1h-1zM462 624h1v1h-1zM477 624h1v1h-1zM498 624h1v1h-1zM511 624h1v1h-1zM533 624h1v1h-1zM551 624h1v1h-1zM35 625h1v1h-1zM56 625h1v1h-1zM77 625h1v1h-1zM152 625h1v1h-1zM226 625h1v1h-1zM315 625h1v1h-1zM337 625h1v1h-1zM398 625h1v1h-1zM421 625h1v1h-1zM440 625h1v1h-1zM462 625h1v1h-1zM467 625h1v1h-1zM477 625h1v1h-1zM498 625h1v1h-1zM510 625h1v1h-1zM533 625h1v1h-1zM551 625h1v1h-1zM35 626h1v1h-1zM56 626h1v1h-1zM77 626h1v1h-1zM152 626h1v1h-1zM226 626h1v1h-1zM315 626h1v1h-1zM337 626h1v1h-1zM398 626h1v1h-1zM421 626h1v1h-1zM440 626h1v1h-1zM463 626h1v1h-1zM466 626h2v1h-2zM477 626h1v1h-1zM499 626h1v1h-1zM510 626h1v1h-1zM533 626h1v1h-1zM551 626h1v1h-1zM35 627h1v1h-1zM56 627h1v1h-1zM77 627h1v1h-1zM152 627h1v1h-1zM226 627h1v1h-1zM314 627h1v1h-1zM337 627h1v1h-1zM398 627h1v1h-1zM422 627h1v1h-1zM440 627h1v1h-1zM463 627h3v1h-3zM468 627h1v1h-1zM476 627h1v1h-1zM499 627h1v1h-1zM510 627h1v1h-1zM533 627h1v1h-1zM551 627h1v1h-1zM36 628h1v1h-1zM56 628h1v1h-1zM77 628h1v1h-1zM152 628h1v1h-1zM226 628h1v1h-1zM314 628h1v1h-1zM337 628h1v1h-1zM397 628h1v1h-1zM422 628h1v1h-1zM440 628h1v1h-1zM463 628h1v1h-1zM468 628h1v1h-1zM476 628h1v1h-1zM499 628h1v1h-1zM510 628h1v1h-1zM533 628h1v1h-1zM550 628h1v1h-1zM36 629h1v1h-1zM55 629h1v1h-1zM78 629h1v1h-1zM152 629h1v1h-1zM226 629h1v1h-1zM314 629h1v1h-1zM337 629h1v1h-1zM397 629h1v1h-1zM422 629h1v1h-1zM440 629h1v1h-1zM468 629h1v1h-1zM476 629h1v1h-1zM499 629h1v1h-1zM510 629h1v1h-1zM534 629h1v1h-1zM550 629h1v1h-1zM36 630h1v1h-1zM55 630h1v1h-1zM78 630h1v1h-1zM151 630h1v1h-1zM226 630h1v1h-1zM313 630h1v1h-1zM338 630h1v1h-1zM397 630h1v1h-1zM422 630h1v1h-1zM439 630h1v1h-1zM469 630h1v1h-1zM476 630h1v1h-1zM499 630h1v1h-1zM510 630h1v1h-1zM534 630h1v1h-1zM550 630h1v1h-1zM36 631h1v1h-1zM55 631h1v1h-1zM78 631h1v1h-1zM151 631h1v1h-1zM226 631h1v1h-1zM313 631h1v1h-1zM338 631h1v1h-1zM397 631h1v1h-1zM423 631h1v1h-1zM439 631h1v1h-1zM469 631h1v1h-1zM475 631h1v1h-1zM500 631h1v1h-1zM510 631h1v1h-1zM534 631h1v1h-1zM550 631h1v1h-1zM36 632h1v1h-1zM54 632h1v1h-1zM78 632h1v1h-1zM151 632h1v1h-1zM227 632h1v1h-1zM313 632h1v1h-1zM338 632h1v1h-1zM397 632h1v1h-1zM423 632h1v1h-1zM439 632h1v1h-1zM470 632h1v1h-1zM475 632h1v1h-1zM500 632h1v1h-1zM510 632h1v1h-1zM534 632h1v1h-1zM550 632h1v1h-1zM36 633h1v1h-1zM54 633h1v1h-1zM78 633h1v1h-1zM151 633h1v1h-1zM227 633h1v1h-1zM312 633h1v1h-1zM338 633h1v1h-1zM397 633h1v1h-1zM423 633h1v1h-1zM439 633h1v1h-1zM470 633h1v1h-1zM474 633h1v1h-1zM501 633h1v1h-1zM510 633h1v1h-1zM534 633h1v1h-1zM549 633h1v1h-1zM37 634h1v1h-1zM54 634h1v1h-1zM78 634h1v1h-1zM150 634h1v1h-1zM227 634h1v1h-1zM312 634h1v1h-1zM338 634h1v1h-1zM397 634h1v1h-1zM424 634h2v1h-2zM438 634h1v1h-1zM470 634h1v1h-1zM473 634h1v1h-1zM501 634h1v1h-1zM510 634h1v1h-1zM534 634h1v1h-1zM549 634h1v1h-1zM37 635h1v1h-1zM53 635h1v1h-1zM78 635h1v1h-1zM150 635h1v1h-1zM227 635h1v1h-1zM312 635h1v1h-1zM338 635h1v1h-1zM396 635h1v1h-1zM426 635h1v1h-1zM438 635h1v1h-1zM471 635h2v1h-2zM502 635h1v1h-1zM510 635h1v1h-1zM535 635h1v1h-1zM549 635h1v1h-1zM37 636h1v1h-1zM53 636h1v1h-1zM78 636h1v1h-1zM150 636h1v1h-1zM227 636h1v1h-1zM311 636h1v1h-1zM338 636h1v1h-1zM396 636h1v1h-1zM427 636h1v1h-1zM438 636h1v1h-1zM471 636h1v1h-1zM502 636h1v1h-1zM510 636h1v1h-1zM535 636h1v1h-1zM549 636h1v1h-1zM37 637h1v1h-1zM53 637h1v1h-1zM78 637h1v1h-1zM149 637h1v1h-1zM227 637h1v1h-1zM311 637h1v1h-1zM338 637h1v1h-1zM396 637h1v1h-1zM428 637h2v1h-2zM437 637h1v1h-1zM503 637h1v1h-1zM509 637h1v1h-1zM535 637h1v1h-1zM549 637h1v1h-1zM37 638h1v1h-1zM52 638h1v1h-1zM78 638h1v1h-1zM149 638h1v1h-1zM227 638h1v1h-1zM311 638h1v1h-1zM338 638h1v1h-1zM396 638h1v1h-1zM430 638h1v1h-1zM437 638h1v1h-1zM503 638h1v1h-1zM509 638h1v1h-1zM535 638h1v1h-1zM548 638h1v1h-1zM37 639h1v1h-1zM52 639h1v1h-1zM79 639h1v1h-1zM149 639h1v1h-1zM227 639h1v1h-1zM310 639h1v1h-1zM339 639h1v1h-1zM396 639h1v1h-1zM431 639h1v1h-1zM436 639h1v1h-1zM503 639h1v1h-1zM509 639h1v1h-1zM535 639h1v1h-1zM548 639h1v1h-1zM38 640h1v1h-1zM52 640h1v1h-1zM79 640h1v1h-1zM149 640h1v1h-1zM227 640h1v1h-1zM310 640h1v1h-1zM339 640h1v1h-1zM396 640h1v1h-1zM432 640h1v1h-1zM436 640h1v1h-1zM503 640h1v1h-1zM509 640h1v1h-1zM536 640h1v1h-1zM548 640h1v1h-1zM38 641h1v1h-1zM51 641h1v1h-1zM79 641h1v1h-1zM148 641h1v1h-1zM227 641h1v1h-1zM310 641h1v1h-1zM339 641h1v1h-1zM396 641h1v1h-1zM433 641h1v1h-1zM436 641h1v1h-1zM503 641h1v1h-1zM509 641h1v1h-1zM536 641h1v1h-1zM548 641h1v1h-1zM38 642h1v1h-1zM51 642h1v1h-1zM79 642h1v1h-1zM148 642h1v1h-1zM228 642h1v1h-1zM310 642h1v1h-1zM339 642h1v1h-1zM359 642h1v1h-1zM396 642h1v1h-1zM434 642h2v1h-2zM504 642h1v1h-1zM509 642h1v1h-1zM536 642h1v1h-1zM548 642h1v1h-1zM38 643h1v1h-1zM51 643h1v1h-1zM79 643h1v1h-1zM148 643h1v1h-1zM228 643h1v1h-1zM309 643h1v1h-1zM339 643h1v1h-1zM359 643h1v1h-1zM395 643h1v1h-1zM435 643h1v1h-1zM504 643h1v1h-1zM509 643h1v1h-1zM537 643h1v1h-1zM547 643h1v1h-1zM38 644h1v1h-1zM50 644h1v1h-1zM79 644h1v1h-1zM147 644h1v1h-1zM228 644h1v1h-1zM309 644h1v1h-1zM339 644h1v1h-1zM358 644h1v1h-1zM360 644h1v1h-1zM395 644h1v1h-1zM504 644h1v1h-1zM509 644h1v1h-1zM537 644h1v1h-1zM547 644h1v1h-1zM38 645h1v1h-1zM50 645h1v1h-1zM79 645h1v1h-1zM147 645h1v1h-1zM228 645h1v1h-1zM309 645h1v1h-1zM339 645h1v1h-1zM358 645h1v1h-1zM360 645h1v1h-1zM395 645h1v1h-1zM504 645h1v1h-1zM509 645h1v1h-1zM538 645h1v1h-1zM547 645h1v1h-1zM39 646h1v1h-1zM49 646h1v1h-1zM79 646h1v1h-1zM147 646h1v1h-1zM228 646h1v1h-1zM308 646h1v1h-1zM339 646h1v1h-1zM358 646h1v1h-1zM360 646h1v1h-1zM395 646h1v1h-1zM504 646h1v1h-1zM509 646h1v1h-1zM538 646h1v1h-1zM547 646h1v1h-1zM39 647h1v1h-1zM49 647h1v1h-1zM79 647h1v1h-1zM146 647h1v1h-1zM228 647h1v1h-1zM308 647h1v1h-1zM339 647h1v1h-1zM357 647h1v1h-1zM361 647h1v1h-1zM395 647h1v1h-1zM504 647h1v1h-1zM509 647h1v1h-1zM538 647h1v1h-1zM546 647h1v1h-1zM39 648h1v1h-1zM48 648h1v1h-1zM79 648h1v1h-1zM146 648h1v1h-1zM228 648h1v1h-1zM308 648h1v1h-1zM340 648h1v1h-1zM357 648h1v1h-1zM361 648h1v1h-1zM395 648h1v1h-1zM504 648h1v1h-1zM508 648h1v1h-1zM539 648h1v1h-1zM546 648h1v1h-1zM39 649h3v1h-3zM48 649h1v1h-1zM80 649h1v1h-1zM145 649h1v1h-1zM228 649h1v1h-1zM308 649h1v1h-1zM340 649h1v1h-1zM357 649h1v1h-1zM362 649h1v1h-1zM395 649h1v1h-1zM505 649h1v1h-1zM508 649h1v1h-1zM539 649h1v1h-1zM546 649h1v1h-1zM42 650h4v1h-4zM47 650h1v1h-1zM80 650h1v1h-1zM145 650h1v1h-1zM228 650h1v1h-1zM307 650h1v1h-1zM340 650h1v1h-1zM357 650h1v1h-1zM362 650h1v1h-1zM394 650h1v1h-1zM505 650h1v1h-1zM508 650h1v1h-1zM539 650h1v1h-1zM546 650h1v1h-1zM46 651h2v1h-2zM80 651h1v1h-1zM145 651h1v1h-1zM228 651h1v1h-1zM307 651h1v1h-1zM340 651h1v1h-1zM356 651h1v1h-1zM362 651h1v1h-1zM394 651h1v1h-1zM505 651h1v1h-1zM508 651h1v1h-1zM540 651h1v1h-1zM545 651h1v1h-1zM80 652h1v1h-1zM144 652h1v1h-1zM228 652h1v1h-1zM307 652h1v1h-1zM340 652h1v1h-1zM356 652h1v1h-1zM363 652h1v1h-1zM394 652h1v1h-1zM505 652h1v1h-1zM508 652h1v1h-1zM540 652h1v1h-1zM545 652h1v1h-1zM80 653h1v1h-1zM144 653h1v1h-1zM229 653h1v1h-1zM306 653h1v1h-1zM340 653h1v1h-1zM356 653h1v1h-1zM363 653h1v1h-1zM394 653h1v1h-1zM505 653h1v1h-1zM508 653h1v1h-1zM541 653h1v1h-1zM545 653h1v1h-1zM80 654h1v1h-1zM143 654h1v1h-1zM229 654h1v1h-1zM306 654h1v1h-1zM340 654h1v1h-1zM355 654h1v1h-1zM363 654h1v1h-1zM394 654h1v1h-1zM505 654h1v1h-1zM508 654h1v1h-1zM541 654h1v1h-1zM544 654h1v1h-1zM80 655h1v1h-1zM143 655h1v1h-1zM229 655h1v1h-1zM306 655h1v1h-1zM340 655h1v1h-1zM355 655h1v1h-1zM363 655h1v1h-1zM394 655h1v1h-1zM506 655h1v1h-1zM508 655h1v1h-1zM541 655h1v1h-1zM544 655h1v1h-1zM80 656h1v1h-1zM142 656h1v1h-1zM229 656h1v1h-1zM306 656h1v1h-1zM341 656h1v1h-1zM355 656h1v1h-1zM363 656h1v1h-1zM394 656h1v1h-1zM506 656h1v1h-1zM508 656h1v1h-1zM542 656h1v1h-1zM544 656h1v1h-1zM80 657h1v1h-1zM142 657h1v1h-1zM229 657h1v1h-1zM305 657h1v1h-1zM341 657h1v1h-1zM354 657h1v1h-1zM364 657h1v1h-1zM393 657h1v1h-1zM506 657h1v1h-1zM508 657h1v1h-1zM542 657h1v1h-1zM544 657h1v1h-1zM80 658h1v1h-1zM141 658h1v1h-1zM229 658h1v1h-1zM305 658h1v1h-1zM341 658h1v1h-1zM354 658h1v1h-1zM364 658h1v1h-1zM393 658h1v1h-1zM506 658h1v1h-1zM508 658h1v1h-1zM543 658h1v1h-1zM80 659h1v1h-1zM140 659h1v1h-1zM229 659h1v1h-1zM305 659h1v1h-1zM341 659h1v1h-1zM354 659h1v1h-1zM364 659h1v1h-1zM393 659h1v1h-1zM506 659h1v1h-1zM508 659h1v1h-1zM543 659h1v1h-1zM81 660h1v1h-1zM140 660h1v1h-1zM229 660h1v1h-1zM305 660h1v1h-1zM341 660h1v1h-1zM354 660h1v1h-1zM364 660h1v1h-1zM393 660h1v1h-1zM506 660h2v1h-2zM81 661h1v1h-1zM139 661h1v1h-1zM229 661h1v1h-1zM304 661h1v1h-1zM341 661h1v1h-1zM353 661h1v1h-1zM364 661h1v1h-1zM393 661h1v1h-1zM506 661h2v1h-2zM81 662h1v1h-1zM138 662h1v1h-1zM229 662h1v1h-1zM291 662h5v1h-5zM304 662h1v1h-1zM341 662h1v1h-1zM353 662h1v1h-1zM364 662h1v1h-1zM393 662h1v1h-1zM507 662h1v1h-1zM81 663h1v1h-1zM138 663h1v1h-1zM230 663h1v1h-1zM291 663h1v1h-1zM296 663h1v1h-1zM304 663h1v1h-1zM341 663h1v1h-1zM353 663h1v1h-1zM364 663h1v1h-1zM393 663h1v1h-1zM507 663h1v1h-1zM81 664h1v1h-1zM137 664h1v1h-1zM230 664h1v1h-1zM251 664h1v1h-1zM290 664h1v1h-1zM297 664h1v1h-1zM304 664h1v1h-1zM342 664h1v1h-1zM352 664h1v1h-1zM365 664h1v1h-1zM393 664h1v1h-1zM507 664h1v1h-1zM81 665h1v1h-1zM137 665h1v1h-1zM230 665h1v1h-1zM251 665h3v1h-3zM290 665h1v1h-1zM298 665h1v1h-1zM303 665h1v1h-1zM342 665h1v1h-1zM352 665h1v1h-1zM365 665h1v1h-1zM392 665h1v1h-1zM507 665h1v1h-1zM81 666h1v1h-1zM136 666h1v1h-1zM230 666h1v1h-1zM250 666h1v1h-1zM254 666h1v1h-1zM290 666h1v1h-1zM299 666h5v1h-5zM342 666h1v1h-1zM352 666h1v1h-1zM365 666h1v1h-1zM392 666h1v1h-1zM81 667h1v1h-1zM136 667h1v1h-1zM230 667h1v1h-1zM250 667h1v1h-1zM255 667h1v1h-1zM289 667h1v1h-1zM342 667h1v1h-1zM352 667h1v1h-1zM365 667h1v1h-1zM392 667h1v1h-1zM81 668h1v1h-1zM135 668h1v1h-1zM230 668h1v1h-1zM249 668h1v1h-1zM255 668h1v1h-1zM289 668h1v1h-1zM342 668h1v1h-1zM351 668h1v1h-1zM365 668h1v1h-1zM392 668h1v1h-1zM81 669h1v1h-1zM134 669h1v1h-1zM230 669h1v1h-1zM249 669h1v1h-1zM256 669h1v1h-1zM289 669h1v1h-1zM342 669h1v1h-1zM347 669h5v1h-5zM365 669h1v1h-1zM392 669h1v1h-1zM82 670h1v1h-1zM134 670h1v1h-1zM230 670h1v1h-1zM249 670h1v1h-1zM256 670h1v1h-1zM288 670h1v1h-1zM342 670h1v1h-1zM346 670h1v1h-1zM365 670h1v1h-1zM392 670h1v1h-1zM82 671h1v1h-1zM133 671h1v1h-1zM230 671h1v1h-1zM248 671h1v1h-1zM256 671h1v1h-1zM288 671h1v1h-1zM342 671h1v1h-1zM346 671h1v1h-1zM366 671h1v1h-1zM392 671h1v1h-1zM82 672h1v1h-1zM133 672h1v1h-1zM230 672h1v1h-1zM248 672h1v1h-1zM257 672h1v1h-1zM288 672h1v1h-1zM343 672h1v1h-1zM345 672h1v1h-1zM366 672h1v1h-1zM391 672h1v1h-1zM82 673h1v1h-1zM132 673h1v1h-1zM230 673h1v1h-1zM247 673h1v1h-1zM257 673h1v1h-1zM287 673h1v1h-1zM343 673h2v1h-2zM366 673h1v1h-1zM391 673h1v1h-1zM82 674h1v1h-1zM132 674h1v1h-1zM231 674h1v1h-1zM247 674h1v1h-1zM257 674h1v1h-1zM287 674h1v1h-1zM343 674h2v1h-2zM366 674h1v1h-1zM391 674h1v1h-1zM82 675h1v1h-1zM130 675h2v1h-2zM231 675h1v1h-1zM247 675h1v1h-1zM258 675h1v1h-1zM286 675h1v1h-1zM343 675h1v1h-1zM366 675h1v1h-1zM391 675h1v1h-1zM82 676h1v1h-1zM127 676h3v1h-3zM231 676h1v1h-1zM246 676h1v1h-1zM258 676h1v1h-1zM286 676h1v1h-1zM366 676h1v1h-1zM391 676h1v1h-1zM82 677h1v1h-1zM127 677h1v1h-1zM231 677h1v1h-1zM246 677h1v1h-1zM258 677h1v1h-1zM285 677h1v1h-1zM366 677h1v1h-1zM391 677h1v1h-1zM82 678h1v1h-1zM126 678h1v1h-1zM231 678h1v1h-1zM246 678h1v1h-1zM259 678h1v1h-1zM285 678h1v1h-1zM367 678h1v1h-1zM390 678h1v1h-1zM82 679h1v1h-1zM126 679h1v1h-1zM231 679h1v1h-1zM245 679h1v1h-1zM259 679h1v1h-1zM284 679h1v1h-1zM367 679h1v1h-1zM390 679h1v1h-1zM82 680h1v1h-1zM125 680h1v1h-1zM231 680h1v1h-1zM245 680h1v1h-1zM259 680h1v1h-1zM284 680h1v1h-1zM367 680h1v1h-1zM390 680h1v1h-1zM83 681h1v1h-1zM125 681h1v1h-1zM231 681h1v1h-1zM245 681h1v1h-1zM260 681h1v1h-1zM283 681h1v1h-1zM367 681h1v1h-1zM390 681h1v1h-1zM83 682h1v1h-1zM125 682h1v1h-1zM231 682h1v1h-1zM244 682h1v1h-1zM260 682h1v1h-1zM282 682h1v1h-1zM367 682h1v1h-1zM389 682h1v1h-1zM83 683h1v1h-1zM124 683h1v1h-1zM232 683h1v1h-1zM244 683h1v1h-1zM261 683h1v1h-1zM281 683h1v1h-1zM367 683h1v1h-1zM389 683h1v1h-1zM83 684h1v1h-1zM124 684h1v1h-1zM232 684h1v1h-1zM244 684h1v1h-1zM261 684h1v1h-1zM281 684h1v1h-1zM368 684h1v1h-1zM389 684h1v1h-1zM83 685h1v1h-1zM123 685h1v1h-1zM232 685h1v1h-1zM243 685h1v1h-1zM262 685h1v1h-1zM280 685h1v1h-1zM368 685h1v1h-1zM389 685h1v1h-1zM83 686h1v1h-1zM123 686h1v1h-1zM232 686h1v1h-1zM243 686h1v1h-1zM262 686h1v1h-1zM279 686h1v1h-1zM368 686h1v1h-1zM389 686h1v1h-1zM83 687h1v1h-1zM123 687h1v1h-1zM232 687h1v1h-1zM243 687h1v1h-1zM263 687h1v1h-1zM277 687h2v1h-2zM368 687h1v1h-1zM388 687h1v1h-1zM84 688h1v1h-1zM122 688h1v1h-1zM232 688h1v1h-1zM242 688h1v1h-1zM263 688h1v1h-1zM275 688h2v1h-2zM368 688h1v1h-1zM388 688h1v1h-1zM84 689h1v1h-1zM122 689h1v1h-1zM233 689h1v1h-1zM242 689h1v1h-1zM263 689h1v1h-1zM274 689h1v1h-1zM369 689h1v1h-1zM388 689h1v1h-1zM84 690h1v1h-1zM122 690h1v1h-1zM233 690h1v1h-1zM242 690h1v1h-1zM264 690h1v1h-1zM273 690h1v1h-1zM369 690h1v1h-1zM388 690h1v1h-1zM85 691h1v1h-1zM121 691h1v1h-1zM233 691h1v1h-1zM241 691h1v1h-1zM264 691h1v1h-1zM272 691h1v1h-1zM369 691h1v1h-1zM387 691h1v1h-1zM85 692h1v1h-1zM121 692h1v1h-1zM233 692h1v1h-1zM241 692h1v1h-1zM265 692h1v1h-1zM271 692h1v1h-1zM369 692h1v1h-1zM387 692h1v1h-1zM85 693h1v1h-1zM120 693h1v1h-1zM233 693h1v1h-1zM240 693h1v1h-1zM265 693h1v1h-1zM270 693h1v1h-1zM369 693h1v1h-1zM387 693h1v1h-1zM86 694h1v1h-1zM120 694h1v1h-1zM233 694h1v1h-1zM240 694h1v1h-1zM266 694h1v1h-1zM269 694h1v1h-1zM369 694h1v1h-1zM386 694h1v1h-1zM86 695h1v1h-1zM120 695h1v1h-1zM234 695h1v1h-1zM240 695h1v1h-1zM266 695h1v1h-1zM269 695h1v1h-1zM370 695h1v1h-1zM384 695h2v1h-2zM86 696h1v1h-1zM119 696h1v1h-1zM234 696h1v1h-1zM239 696h1v1h-1zM267 696h2v1h-2zM370 696h1v1h-1zM383 696h1v1h-1zM87 697h1v1h-1zM119 697h1v1h-1zM234 697h1v1h-1zM239 697h1v1h-1zM267 697h1v1h-1zM370 697h1v1h-1zM382 697h1v1h-1zM87 698h1v1h-1zM119 698h1v1h-1zM234 698h1v1h-1zM238 698h1v1h-1zM370 698h1v1h-1zM382 698h1v1h-1zM88 699h1v1h-1zM95 699h2v1h-2zM118 699h1v1h-1zM234 699h1v1h-1zM238 699h1v1h-1zM370 699h1v1h-1zM381 699h1v1h-1zM89 700h1v1h-1zM94 700h1v1h-1zM97 700h2v1h-2zM118 700h1v1h-1zM234 700h1v1h-1zM237 700h1v1h-1zM371 700h1v1h-1zM381 700h1v1h-1zM89 701h1v1h-1zM93 701h1v1h-1zM99 701h1v1h-1zM118 701h1v1h-1zM235 701h2v1h-2zM371 701h1v1h-1zM380 701h1v1h-1zM90 702h1v1h-1zM92 702h1v1h-1zM100 702h2v1h-2zM117 702h1v1h-1zM235 702h2v1h-2zM371 702h1v1h-1zM380 702h1v1h-1zM91 703h1v1h-1zM102 703h1v1h-1zM117 703h1v1h-1zM235 703h1v1h-1zM372 703h2v1h-2zM379 703h1v1h-1zM103 704h1v1h-1zM116 704h1v1h-1zM374 704h1v1h-1zM377 704h2v1h-2zM104 705h1v1h-1zM116 705h1v1h-1zM375 705h2v1h-2zM105 706h1v1h-1zM116 706h1v1h-1zM106 707h1v1h-1zM115 707h1v1h-1zM107 708h3v1h-3zM114 708h2v1h-2zM110 709h4v1h-4z" fill="#20b2aa"/>
<rect x="670" y="0" width="42" height="732" fill="#fff"/>
<rect x="0" y="715" width="712" height="17" fill="#fff"/>
<rect x="2" y="2" width="668" height="1" fill="#000"/>
<rect x="2" y="357" width="668" height="1" fill="#000"/>
<rect x="2" y="2" width="1" height="356" fill="#000"/>
<rect x="2" y="359" width="668" height="1" fill="#000"/>
<rect x="2" y="536" width="668" height="1" fill="#000"/>
<rect x="2" y="359" width="1" height="178" fill="#000"/>
<rect x="2" y="538" width="668" height="1" fill="#000"/>
<rect x="2" y="714" width="668" height="1" fill="#000"/>
<rect x="2" y="538" width="1" height="177" fill="#000"/>
<rect x="669" y="2" width="1" height="713" fill="#000"/>
<rect x="669" y="358" width="1" height="1" fill="#fff"/>
<rect x="669" y="537" width="1" height="1" fill="#fff"/>
<rect x="670" y="24" width="2" height="1" fill="#000"/>
<rect x="670" y="57" width="2" height="1" fill="#000"/>
<rect x="670" y="90" width="2" height="1" fill="#000"/>
<rect x="670" y="123" width="2" height="1" fill="#000"/>
<rect x="670" y="156" width="2" height="1" fill="#000"/>
<rect x="670" y="189" width="2" height="1" fill="#000"/>
<rect x="670" y="222" width="2" height="1" fill="#000"/>
<rect x="670" y="255" width="2" height="1" fill="#000"/>
<rect x="670" y="288" width="2" height="1" fill="#000"/>
<rect x="670" y="321" width="2" height="1" fill="#000"/>
<rect x="670" y="354" width="2" height="1" fill="#000"/>
<rect x="670" y="434" width="2" height="1" fill="#000"/>
<rect x="670" y="361" width="1" height="1" fill="#000"/>
<rect x="670" y="535" width="1" height="1" fill="#000"/>
<rect x="670" y="540" width="1" height="1" fill="#000"/>
<rect x="670" y="713" width="1" height="1" fill="#000"/>
<rect x="3" y="715" width="1" height="3" fill="#000"/>
<rect x="67" y="715" width="1" height="3" fill="#000"/>
<rect x="131" y="715" width="1" height="3" fill="#000"/>
<rect x="195" y="715" width="1" height="3" fill="#000"/>
<rect x="259" y="715" width="1" height="3" fill="#000"/>
<rect x="323" y="715" width="1" height="3" fill="#000"/>
<rect x="387" y="715" width="1" height="3" fill="#000"/>
<rect x="451" y="715" width="1" height="3" fill="#000"/>
<rect x="515" y="715" width="1" height="3" fill="#000"/>
<rect x="579" y="715" width="1" height="3" fill="#000"/>
<g font-size="10" shape-rendering="geometricPrecision" style="text-rendering:geometricPrecision" stroke-width="0.25">
<text x="675.43" y="27" fill="#000" stroke="#000" textLength="32.07" lengthAdjust="spacingAndGlyphs">1.28340</text>
<text x="675.43" y="60" fill="#000" stroke="#000" textLength="32.07" lengthAdjust="spacingAndGlyphs">1.27850</text>
<text x="675.43" y="126" fill="#000" stroke="#000" textLength="32.07" lengthAdjust="spacingAndGlyphs">1.26880</text>
<text x="675.43" y="159" fill="#000" stroke="#000" textLength="32.07" lengthAdjust="spacingAndGlyphs">1.26390</text>
<text x="675.43" y="192" fill="#000" stroke="#000" textLength="32.07" lengthAdjust="spacingAndGlyphs">1.25910</text>
<text x="675.43" y="225" fill="#000" stroke="#000" textLength="32.07" lengthAdjust="spacingAndGlyphs">1.25420</text>
<text x="675.43" y="258" fill="#000" stroke="#000" textLength="32.07" lengthAdjust="spacingAndGlyphs">1.24930</text>
<text x="675.43" y="291" fill="#000" stroke="#000" textLength="32.07" lengthAdjust="spacingAndGlyphs">1.24440</text>
<text x="675.43" y="324" fill="#000" stroke="#000" textLength="32.07" lengthAdjust="spacingAndGlyphs">1.23960</text>
<text x="675.43" y="357" fill="#000" stroke="#000" textLength="32.07" lengthAdjust="spacingAndGlyphs">1.23470</text>
<rect x="671" y="12" width="41" height="11" fill="#90ee90"/>
<text x="675.43" y="21" fill="#fff" stroke="#fff" textLength="32.12" lengthAdjust="spacingAndGlyphs">1.28425</text>
<rect x="671" y="48" width="41" height="11" fill="#90ee90"/>
<text x="675.43" y="57" fill="#fff" stroke="#fff" textLength="32.07" lengthAdjust="spacingAndGlyphs">1.27900</text>
<rect x="671" y="65" width="41" height="11" fill="#90ee90"/>
<text x="675.43" y="74" fill="#fff" stroke="#fff" textLength="32.07" lengthAdjust="spacingAndGlyphs">1.27650</text>
<rect x="671" y="82" width="41" height="11" fill="#90ee90"/>
<text x="675.43" y="91" fill="#fff" stroke="#fff" textLength="32.07" lengthAdjust="spacingAndGlyphs">1.27400</text>
<rect x="671" y="102" width="41" height="11" fill="#90ee90"/>
<text x="675.43" y="111" fill="#fff" stroke="#fff" textLength="32.07" lengthAdjust="spacingAndGlyphs">1.27100</text>
<rect x="671" y="133" width="41" height="11" fill="#90ee90"/>
<text x="675.43" y="142" fill="#fff" stroke="#fff" textLength="32.07" lengthAdjust="spacingAndGlyphs">1.26650</text>
<rect x="671" y="155" width="41" height="11" fill="#90ee90"/>
<text x="675.43" y="164" fill="#fff" stroke="#fff" textLength="32.12" lengthAdjust="spacingAndGlyphs">1.26325</text>
<rect x="671" y="177" width="41" height="11" fill="#90ee90"/>
<text x="675.43" y="186" fill="#fff" stroke="#fff" textLength="32.07" lengthAdjust="spacingAndGlyphs">1.26000</text>
<rect x="671" y="192" width="41" height="11" fill="#90ee90"/>
<text x="675.43" y="201" fill="#fff" stroke="#fff" textLength="32.12" lengthAdjust="spacingAndGlyphs">1.25775</text>
<rect x="671" y="207" width="41" height="11" fill="#90ee90"/>
<text x="675.43" y="216" fill="#fff" stroke="#fff" textLength="32.07" lengthAdjust="spacingAndGlyphs">1.25550</text>
<rect x="671" y="236" width="41" height="11" fill="#90ee90"/>
<text x="675.43" y="245" fill="#fff" stroke="#fff" textLength="32.12" lengthAdjust="spacingAndGlyphs">1.25125</text>
<rect x="671" y="255" width="41" height="11" fill="#90ee90"/>
<text x="675.43" y="264" fill="#fff" stroke="#fff" textLength="32.07" lengthAdjust="spacingAndGlyphs">1.24850</text>
<rect x="671" y="285" width="41" height="11" fill="#90ee90"/>
<text x="675.43" y="294" fill="#fff" stroke="#fff" textLength="32.07" lengthAdjust="spacingAndGlyphs">1.24400</text>
<rect x="671" y="309" width="41" height="11" fill="#90ee90"/>
<text x="675.43" y="318" fill="#fff" stroke="#fff" textLength="32.07" lengthAdjust="spacingAndGlyphs">1.24050</text>
<rect x="671" y="219" width="41" height="11" fill="#000"/>
<text x="675.43" y="228" fill="#fff" stroke="#fff" textLength="32.12" lengthAdjust="spacingAndGlyphs">1.25373</text>
<rect x="671" y="336" width="41" height="11" fill="#008080"/>
<text x="675.43" y="345" fill="#fff" stroke="#fff" textLength="32.07" lengthAdjust="spacingAndGlyphs">1.23650</text>
<text x="673.24" y="370" fill="#000" stroke="#000" textLength="37.11" lengthAdjust="spacingAndGlyphs">0.004167</text>
<text x="673.23" y="437" fill="#000" stroke="#000" textLength="17.80" lengthAdjust="spacingAndGlyphs">0.00</text>
<text x="673.19" y="533" fill="#000" stroke="#000" textLength="40.62" lengthAdjust="spacingAndGlyphs">-0.005711</text>
<text x="673.14" y="549" fill="#000" stroke="#000" textLength="14.70" lengthAdjust="spacingAndGlyphs">100</text>
<text x="671.94" y="577" fill="#000" stroke="#000" textLength="9.99" lengthAdjust="spacingAndGlyphs">80</text>
<text x="671.85" y="682" fill="#000" stroke="#000" textLength="10.09" lengthAdjust="spacingAndGlyphs">20</text>
<text x="673.03" y="711" fill="#000" stroke="#000" textLength="5.10" lengthAdjust="spacingAndGlyphs">0</text>
<path d="M6 9h7v1h-1v1h-1v1h-1v1h-1v-1h-1v-1h-1v-1h-1z" fill="#000" stroke="none" shape-rendering="crispEdges"/>
<text x="18.05" y="14" fill="#000" stroke="#000" textLength="53.97" lengthAdjust="spacingAndGlyphs">EURUSD,H4</text>
<text x="78.13" y="14" fill="#000" stroke="#000" textLength="32.17" lengthAdjust="spacingAndGlyphs">1.25371</text>
<text x="114.53" y="14" fill="#000" stroke="#000" textLength="32.12" lengthAdjust="spacingAndGlyphs">1.25483</text>
<text x="150.83" y="14" fill="#000" stroke="#000" textLength="32.12" lengthAdjust="spacingAndGlyphs">1.25343</text>
<text x="187.03" y="14" fill="#000" stroke="#000" textLength="32.12" lengthAdjust="spacingAndGlyphs">1.25373</text>
<text x="7.04" y="372" fill="#000" stroke="#000" textLength="65.85" lengthAdjust="spacingAndGlyphs">MACD(12,26,9)</text>
<text x="75.94" y="372" fill="#000" stroke="#000" textLength="37.78" lengthAdjust="spacingAndGlyphs">0.001951</text>
<text x="117.55" y="372" fill="#000" stroke="#000" textLength="37.01" lengthAdjust="spacingAndGlyphs">0.001832</text>
<text x="7.18" y="551" fill="#000" stroke="#000" textLength="55.61" lengthAdjust="spacingAndGlyphs">Stoch(13,3,3)</text>
<text x="65.76" y="551" fill="#000" stroke="#000" textLength="31.45" lengthAdjust="spacingAndGlyphs">61.7594</text>
<text x="102.06" y="551" fill="#000" stroke="#000" textLength="31.73" lengthAdjust="spacingAndGlyphs">71.6451</text>
<text x="7.61" y="710" fill="#000" stroke="#000" textLength="23.16" lengthAdjust="spacingAndGlyphs">FxPro</text>
<text x="34.78" y="710" fill="#000" stroke="#000" textLength="20.51" lengthAdjust="spacingAndGlyphs">MT4,</text>
<text x="58.11" y="710" fill="#000" stroke="#000" textLength="9.20" lengthAdjust="spacingAndGlyphs">©</text>
<text x="70.66" y="710" fill="#000" stroke="#000" textLength="44.43" lengthAdjust="spacingAndGlyphs">2001-2014,</text>
<text x="118.13" y="710" fill="#000" stroke="#000" textLength="52.12" lengthAdjust="spacingAndGlyphs">MetaQuotes</text>
<text x="174.18" y="710" fill="#000" stroke="#000" textLength="36.50" lengthAdjust="spacingAndGlyphs">Software</text>
<text x="214.86" y="710" fill="#000" stroke="#000" textLength="21.60" lengthAdjust="spacingAndGlyphs">Corp.</text>
<text x="2.56" y="727" fill="#000" stroke="#000" textLength="50.30" lengthAdjust="spacingAndGlyphs">16 Oct 2014</text>
<text x="66.23" y="727" fill="#000" stroke="#000" textLength="53.50" lengthAdjust="spacingAndGlyphs">21 Oct 04:00</text>
<text x="130.64" y="727" fill="#000" stroke="#000" textLength="53.10" lengthAdjust="spacingAndGlyphs">23 Oct 20:00</text>
<text x="194.84" y="727" fill="#000" stroke="#000" textLength="53.20" lengthAdjust="spacingAndGlyphs">28 Oct 12:00</text>
<text x="259.03" y="727" fill="#000" stroke="#000" textLength="53.00" lengthAdjust="spacingAndGlyphs">31 Oct 04:00</text>
<text x="322.61" y="727" fill="#000" stroke="#000" textLength="51.15" lengthAdjust="spacingAndGlyphs">4 Nov 20:00</text>
<text x="386.62" y="727" fill="#000" stroke="#000" textLength="51.44" lengthAdjust="spacingAndGlyphs">7 Nov 12:00</text>
<text x="450.89" y="727" fill="#000" stroke="#000" textLength="56.13" lengthAdjust="spacingAndGlyphs">12 Nov 04:00</text>
<text x="515.00" y="727" fill="#000" stroke="#000" textLength="55.72" lengthAdjust="spacingAndGlyphs">14 Nov 20:00</text>
<text x="579.40" y="727" fill="#000" stroke="#000" textLength="55.41" lengthAdjust="spacingAndGlyphs">19 Nov 12:00</text>
</g>
</svg>
</body></html>
